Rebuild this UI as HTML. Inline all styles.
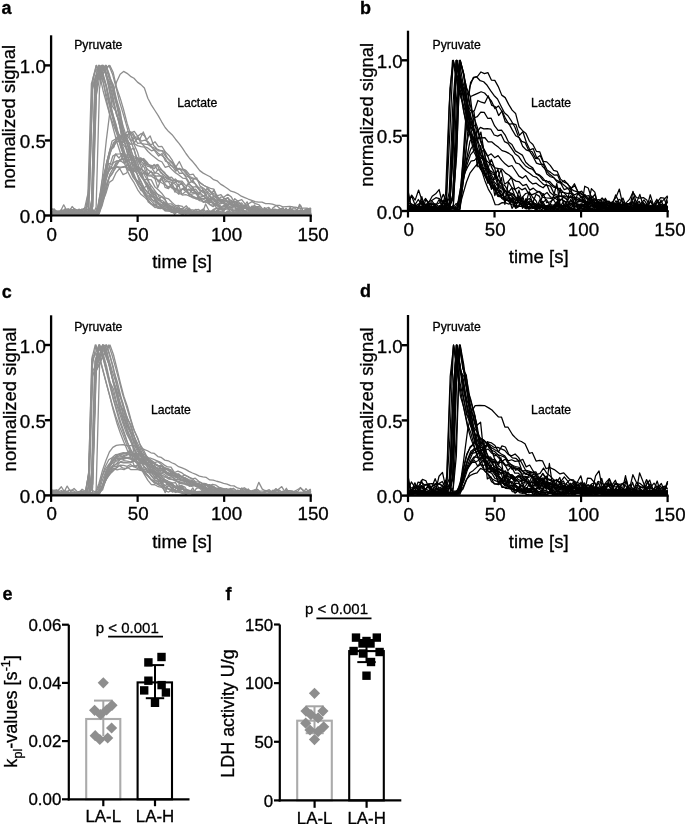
<!DOCTYPE html><html><head><meta charset="utf-8"><style>html,body{margin:0;padding:0;background:#fff;overflow:hidden}svg{display:block;filter:blur(0.3px)}text{font-family:"Liberation Sans", sans-serif;stroke:#000;stroke-width:0.3px}</style></head><body>
<svg width="685" height="824" viewBox="0 0 685 824">
<rect width="685" height="824" fill="#fff"/>
<g fill="none" stroke="#8e8e8e" stroke-width="1.3" stroke-linejoin="round">
<polyline points="51.1,212.13 54.81,212.54 58.27,214.65 61.73,214.3 65.19,209.64 68.66,212.63 72.12,206.47 75.58,210.45 79.04,211.99 82.5,209.51 85.96,211.04 89.42,194.46 92.89,81.43 96.35,65.4 99.81,74.77 103.27,82.46 106.73,100.97 110.19,116.27 113.65,125.6 117.12,134.49 120.58,146.75 124.04,156.75 127.5,169.07 130.96,171.38 134.42,177.94 137.88,180.89 141.34,185.76 144.81,192.1 148.27,201.95 151.73,204.49 155.19,206.1 158.65,204.52 162.11,207.91 165.57,205.1 169.04,207.73 172.5,209.63 175.96,209.65 179.42,210.58 182.88,208.66 186.34,205.81 189.8,209.99 193.27,209.98 196.73,213.65 200.19,211.21 203.65,210.3 207.11,212.25 210.57,212.47 214.03,211.37 217.5,211.3 220.96,207.75 224.42,213.9 227.88,212.08 231.34,214.03 234.8,214.19 238.26,212.29 241.73,212.65 245.19,212.78 248.65,213.41 252.11,211.97 255.57,213.12 259.03,210.37 262.49,211.48 265.96,212.75 269.42,212.38 272.88,212.8 276.34,214.27 279.8,214.72 283.26,212.88 286.72,211.34 290.19,211.99 293.65,212.58 297.11,211.69 300.57,214.22 304.03,211.05 307.49,209.2 310.19,208.07 310.7,209.37"/>
<polyline points="51.1,213.6 53.74,213.41 57.2,213.01 60.66,214.95 64.13,214.66 67.59,214.74 71.05,214.36 74.51,214.09 77.97,213.64 81.43,214.31 84.89,213.02 88.36,215.19 91.82,90.82 95.28,80 98.74,65.4 102.2,75.57 105.66,84.79 109.12,101.94 112.59,113.45 116.05,124.33 119.51,139.61 122.97,149.77 126.43,158.6 129.89,168.31 133.35,172.61 136.82,181.16 140.28,184.89 143.74,190.34 147.2,195.07 150.66,197.35 154.12,201.88 157.58,202.71 161.05,207.65 164.51,208.35 167.97,207.65 171.43,212.41 174.89,210.75 178.35,212.66 181.81,213.09 185.28,214.17 188.74,212.2 192.2,214.91 195.66,212.5 199.12,213.66 202.58,215.21 206.04,215.04 209.5,214.16 212.97,214.65 216.43,212.37 219.89,214.92 223.35,212.75 226.81,214.26 230.27,215.12 233.73,214.03 237.2,213.26 240.66,214.86 244.12,215.27 247.58,214.08 251.04,214.3 254.5,213.11 257.96,214.76 261.43,213.88 264.89,214.59 268.35,213.91 271.81,214.49 275.27,214.26 278.73,214.31 282.19,212.39 285.66,213.51 289.12,212.69 292.58,213.83 296.04,213.45 299.5,215.36 302.96,213.41 306.42,214.95 309.89,213.28 310.7,214.04"/>
<polyline points="51.1,213.89 54.26,211.37 57.72,212.45 61.18,213.95 64.64,213.08 68.1,214.85 71.56,213.45 75.02,213.15 78.49,212.47 81.95,213.53 85.41,212.29 88.87,213.38 92.33,212.44 95.79,91.42 99.25,65.4 102.72,74.57 106.18,85.93 109.64,103.42 113.1,117.41 116.56,129.9 120.02,139.77 123.48,153.78 126.95,162.14 130.41,166.88 133.87,176.24 137.33,182.63 140.79,190.13 144.25,192.36 147.71,199.75 151.18,203.63 154.64,205.12 158.1,203.18 161.56,207 165.02,210.85 168.48,210.95 171.94,210.61 175.41,209.9 178.87,212.7 182.33,210.94 185.79,211.39 189.25,211.08 192.71,214.87 196.17,213.19 199.63,214.16 203.1,214.57 206.56,212.45 210.02,212.07 213.48,210.78 216.94,213.24 220.4,214.88 223.86,213.52 227.33,212.75 230.79,212.54 234.25,213.06 237.71,211.71 241.17,213.55 244.63,213.89 248.09,212.61 251.56,214.63 255.02,214.35 258.48,212.62 261.94,210.77 265.4,215.27 268.86,212.72 272.32,213.76 275.79,213.58 279.25,214.01 282.71,212.12 286.17,211.97 289.63,213.54 293.09,212.36 296.55,214.38 300.02,211.85 303.48,214.28 306.94,211.74 310.19,214.9 310.7,213.82"/>
<polyline points="51.1,213.01 54.18,212.93 57.64,213.74 61.1,213.19 64.56,214.81 68.03,212.7 71.49,214.2 74.95,210.5 78.41,211.98 81.87,214.98 85.33,210.34 88.79,212.31 92.26,199.44 95.72,77.25 99.18,72.38 102.64,65.4 106.1,71.89 109.56,90.55 113.02,102.92 116.48,112.61 119.95,127.37 123.41,139.06 126.87,151 130.33,158.13 133.79,170.12 137.25,173.92 140.71,181.75 144.18,187.88 147.64,193.21 151.1,194.52 154.56,198.94 158.02,203.15 161.48,204.49 164.94,208.61 168.41,205.89 171.87,206.81 175.33,208.66 178.79,211.19 182.25,211.5 185.71,213.99 189.17,213.61 192.64,213.75 196.1,214.4 199.56,213.1 203.02,213.89 206.48,214.81 209.94,211.03 213.4,215.01 216.87,210.95 220.33,211.89 223.79,211.64 227.25,214.37 230.71,214.68 234.17,212.38 237.63,214.86 241.1,213.94 244.56,214.01 248.02,215.25 251.48,208.98 254.94,213.86 258.4,212.4 261.86,213.38 265.33,213.71 268.79,215.13 272.25,213.2 275.71,213.85 279.17,214.58 282.63,212.93 286.09,214.45 289.55,213.52 293.02,213.78 296.48,214.33 299.94,214.28 303.4,212.95 306.86,214.28 310.19,214.99 310.7,214.71"/>
<polyline points="51.1,213.56 54.13,212.31 57.59,212.5 61.05,214.01 64.51,213.24 67.98,212.86 71.44,212.81 74.9,212.77 78.36,211.59 81.82,213.36 85.28,213.67 88.74,188.01 92.21,86.44 95.67,78.44 99.13,70.69 102.59,65.4 106.05,73.49 109.51,83.73 112.97,96.63 116.44,114.85 119.9,121.68 123.36,133.02 126.82,142.67 130.28,153.66 133.74,162.56 137.2,169.68 140.67,173.95 144.13,180.2 147.59,183.55 151.05,193.07 154.51,192.6 157.97,194.48 161.43,202.39 164.89,202.78 168.36,208.18 171.82,212.07 175.28,210.53 178.74,209.63 182.2,209.91 185.66,211.96 189.12,211.09 192.59,211.84 196.05,209.37 199.51,214.57 202.97,213.22 206.43,212.58 209.89,213 213.35,214.27 216.82,210.48 220.28,214.31 223.74,213.83 227.2,213.03 230.66,214.14 234.12,210.09 237.58,210.27 241.05,212.4 244.51,210.71 247.97,214.48 251.43,213.48 254.89,214.38 258.35,214.32 261.81,212.53 265.28,213.84 268.74,212.21 272.2,213.19 275.66,212.38 279.12,212.47 282.58,212.85 286.04,212.37 289.51,212.89 292.97,214.74 296.43,211.9 299.89,213.17 303.35,214.51 306.81,214.44 310.19,213.39 310.7,214.34"/>
<polyline points="51.1,215.06 53.98,215.07 57.44,214.25 60.91,214.21 64.37,213.26 67.83,214.48 71.29,214.19 74.75,214.43 78.21,213.29 81.67,214.09 85.13,214.01 88.6,213.02 92.06,204.81 95.52,80.31 98.98,74.94 102.44,69.22 105.9,65.4 109.36,74.59 112.83,87.01 116.29,100.15 119.75,113.73 123.21,126.38 126.67,137.47 130.13,147.54 133.59,157.72 137.06,165.77 140.52,173.02 143.98,180.26 147.44,184.39 150.9,189.1 154.36,194.12 157.82,198.54 161.29,202.34 164.75,205.31 168.21,204.6 171.67,207.15 175.13,209.17 178.59,211.17 182.05,211.19 185.52,211.23 188.98,212.36 192.44,213.89 195.9,211.27 199.36,213.64 202.82,215.16 206.28,214.22 209.75,214.48 213.21,214.31 216.67,214.36 220.13,214.78 223.59,214.83 227.05,214.17 230.51,214.55 233.98,215.37 237.44,213.97 240.9,213.65 244.36,214.28 247.82,213.43 251.28,214.11 254.74,215.01 258.2,215.17 261.67,215.15 265.13,214.43 268.59,214.28 272.05,215.01 275.51,214.69 278.97,214.52 282.43,215.04 285.9,214.27 289.36,214.27 292.82,214.81 296.28,214.02 299.74,214.87 303.2,214.14 306.66,213.99 310.13,215.07 310.7,215.41"/>
<polyline points="51.1,214.63 53.58,214.83 57.04,214.29 60.51,214.47 63.97,214.32 67.43,214.2 70.89,214.28 74.35,214.4 77.81,214.24 81.27,215.32 84.74,214.88 88.2,214.18 91.66,214.57 95.12,83.92 98.58,78.71 102.04,76.18 105.5,68.74 108.97,65.4 112.43,73.91 115.89,86.66 119.35,101.15 122.81,112.67 126.27,124.68 129.73,137.35 133.2,147.7 136.66,157.19 140.12,164.27 143.58,173.24 147.04,179.55 150.5,184.62 153.96,189.38 157.42,194.16 160.89,196.1 164.35,199.15 167.81,203.92 171.27,203.81 174.73,206.63 178.19,207.96 181.65,209.18 185.12,211.75 188.58,212.43 192.04,212.02 195.5,213.3 198.96,211.21 202.42,213.98 205.88,213.27 209.35,215.08 212.81,212.61 216.27,213.36 219.73,214.35 223.19,214.07 226.65,215.1 230.11,214.03 233.58,213.52 237.04,215.07 240.5,214.72 243.96,214.78 247.42,214.09 250.88,214.34 254.34,215.05 257.81,215.25 261.27,214.08 264.73,215.34 268.19,214.53 271.65,214.97 275.11,215.01 278.57,214.57 282.04,215.14 285.5,214.2 288.96,215.01 292.42,214.56 295.88,214.52 299.34,213.9 302.8,214.13 306.27,215.25 309.73,214.49 310.7,214.41"/>
<polyline points="51.1,213.08 54.77,211.9 58.23,211.74 61.69,215.21 65.15,212.99 68.62,213.96 72.08,212.02 75.54,213.06 79,211.8 82.46,213.47 85.92,214.01 89.38,213.75 92.84,192.62 96.31,94.18 99.77,65.4 103.23,74.21 106.69,86.58 110.15,102.04 113.61,117.41 117.07,129.15 120.54,139.36 124,149.8 127.46,162.79 130.92,171.89 134.38,177.36 137.84,184.8 141.3,189.18 144.77,195.31 148.23,197.02 151.69,199.9 155.15,200.87 158.61,203.09 162.07,207.21 165.53,210.12 169,208.62 172.46,212.55 175.92,210.59 179.38,213.2 182.84,214.82 186.3,210.19 189.76,211.09 193.23,211.95 196.69,214.56 200.15,214.2 203.61,214.6 207.07,213.96 210.53,212.77 213.99,214.65 217.46,213.36 220.92,212.93 224.38,213.26 227.84,213.66 231.3,212.08 234.76,213.54 238.22,210.26 241.69,213.92 245.15,214.87 248.61,213.71 252.07,212.78 255.53,212.95 258.99,214.56 262.45,212.93 265.91,211.56 269.38,213.3 272.84,214.19 276.3,213.85 279.76,214.59 283.22,214.09 286.68,213.66 290.14,212.44 293.61,214.28 297.07,214.65 300.53,214.66 303.99,212.87 307.45,213.77 310.19,213.54 310.7,213.9"/>
<polyline points="51.1,213.18 53.32,210.57 56.78,215.03 60.24,211.67 63.7,204.81 67.17,211.21 70.63,211.07 74.09,210.27 77.55,212.22 81.01,209.81 84.47,209.08 87.93,193.72 91.4,83.72 94.86,71.85 98.32,67.65 101.78,65.4 105.24,72.54 108.7,86.92 112.16,105.79 115.63,111.22 119.09,121.65 122.55,143.66 126.01,148.03 129.47,162.44 132.93,164.09 136.39,171.7 139.86,183.11 143.32,188.4 146.78,185.68 150.24,197.17 153.7,195.6 157.16,208.2 160.62,208.64 164.08,202.54 167.55,206.47 171.01,207.91 174.47,214.53 177.93,210.82 181.39,208.42 184.85,212.13 188.31,209.57 191.78,212.17 195.24,209.81 198.7,209.46 202.16,213.77 205.62,203.97 209.08,210.78 212.54,212.32 216.01,208.11 219.47,208.4 222.93,210.56 226.39,206.29 229.85,211.34 233.31,210.03 236.77,211.84 240.24,209.05 243.7,210.25 247.16,212.25 250.62,212.95 254.08,213.99 257.54,208.09 261,210.01 264.47,209.59 267.93,211.94 271.39,210.94 274.85,212.26 278.31,213.43 281.77,213.74 285.23,213.38 288.7,213.57 292.16,210.14 295.62,210.1 299.08,213.59 302.54,213.32 306,210.27 309.46,209.03 310.7,214.43"/>
<polyline points="51.1,214.98 54.63,214.67 58.09,213.52 61.56,215.01 65.02,214.62 68.48,215.03 71.94,214.54 75.4,214.74 78.86,213.58 82.32,213.33 85.79,213.59 89.25,191.51 92.71,79.16 96.17,65.4 99.63,74.75 103.09,90.72 106.55,103.24 110.02,115.87 113.48,129.36 116.94,142.22 120.4,153.04 123.86,161.84 127.32,170.91 130.78,177.58 134.24,182.96 137.71,189.8 141.17,194.56 144.63,197.17 148.09,200.85 151.55,204.43 155.01,207.56 158.47,206.53 161.94,207.9 165.4,210.64 168.86,211.06 172.32,212.12 175.78,212.53 179.24,212.19 182.7,213.12 186.17,213.61 189.63,213.93 193.09,214.37 196.55,214.26 200.01,214.7 203.47,214.85 206.93,213.61 210.4,214.39 213.86,214.37 217.32,213.47 220.78,215.06 224.24,215.02 227.7,215.06 231.16,214.86 234.63,214.89 238.09,214.66 241.55,214.53 245.01,214.08 248.47,214.91 251.93,215.11 255.39,214.26 258.86,214.27 262.32,214.59 265.78,214.27 269.24,214.85 272.7,214.32 276.16,214.18 279.62,215.03 283.09,215.19 286.55,215.22 290.01,214.28 293.47,214.59 296.93,215.04 300.39,214.45 303.85,214.06 307.31,214.01 310.19,214.76 310.7,213.95"/>
<polyline points="51.1,209.99 54.36,208.97 57.82,214.83 61.28,214.2 64.74,209.8 68.2,209.23 71.66,210.97 75.12,209.42 78.59,210.39 82.05,209.86 85.51,207.46 88.97,206.17 92.43,87.26 95.89,75.49 99.35,74.05 102.82,67.65 106.28,65.4 109.74,77.82 113.2,84.59 116.66,99.79 120.12,111.18 123.58,132.17 127.05,137.88 130.51,149.53 133.97,148.19 137.43,163.51 140.89,170.9 144.35,180.04 147.81,178.93 151.28,189.12 154.74,192.31 158.2,199.83 161.66,196.56 165.12,199.07 168.58,209.38 172.04,210.1 175.51,205.43 178.97,206.73 182.43,214.41 185.89,211.09 189.35,208.18 192.81,213.07 196.27,212.64 199.73,211.19 203.2,208.92 206.66,213.22 210.12,211.94 213.58,209.37 217.04,207.78 220.5,213.62 223.96,213.91 227.43,214.66 230.89,206.55 234.35,212.35 237.81,214.64 241.27,209.85 244.73,213.51 248.19,211.57 251.66,208.06 255.12,212.4 258.58,212.28 262.04,211.71 265.5,212.88 268.96,208.18 272.42,211.34 275.89,210.19 279.35,211.01 282.81,211.89 286.27,212.43 289.73,211.87 293.19,212.41 296.65,214.44 300.12,209.82 303.58,211.93 307.04,210.11 310.19,210.24 310.7,207.95"/>
<polyline points="51.1,214.43 54.49,215.25 57.95,214.34 61.41,214.45 64.87,214.45 68.33,215.19 71.79,213.87 75.26,215.21 78.72,213.73 82.18,214.98 85.64,213.6 89.1,215.16 92.56,214.07 96.02,211.06 99.48,88.84 102.95,65.4 106.41,75.72 109.87,87.84 113.33,100.49 116.79,114.62 120.25,126.74 123.71,138.83 127.18,148.54 130.64,158.32 134.1,166.44 137.56,174.83 141.02,181.37 144.48,188.94 147.94,192.41 151.41,196.41 154.87,198.35 158.33,202.26 161.79,205.18 165.25,206.62 168.71,208.61 172.17,210.24 175.64,211.53 179.1,210.85 182.56,211.13 186.02,213.03 189.48,213.14 192.94,213.27 196.4,214.58 199.87,214.27 203.33,215.11 206.79,214.26 210.25,213.97 213.71,213.82 217.17,214.3 220.63,214.62 224.1,214.78 227.56,214.51 231.02,213.96 234.48,214.85 237.94,213.71 241.4,215.08 244.86,215.1 248.33,214.88 251.79,213.83 255.25,213.62 258.71,214.65 262.17,214.62 265.63,215.27 269.09,214 272.55,215.12 276.02,214.31 279.48,214.94 282.94,214.83 286.4,213.83 289.86,215.02 293.32,214.24 296.78,214.87 300.25,214.76 303.71,214.42 307.17,213.76 310.19,214.16 310.7,214.36"/>
<polyline points="51.1,214.79 53.34,214.76 56.8,215.17 60.26,214.84 63.72,213.52 67.19,213.77 70.65,214.9 74.11,213.77 77.57,214.09 81.03,214.8 84.49,214.28 87.95,213.71 91.42,208.03 94.88,79.49 98.34,65.4 101.8,76.22 105.26,90.7 108.72,103.14 112.18,116.7 115.65,128.29 119.11,141.16 122.57,151.48 126.03,159.82 129.49,168.73 132.95,177.22 136.41,181.7 139.88,187.83 143.34,191.01 146.8,197.79 150.26,200.09 153.72,203.53 157.18,206.74 160.64,208.4 164.11,208.49 167.57,209.4 171.03,211.72 174.49,212.13 177.95,210.87 181.41,213.14 184.87,213.2 188.34,212.68 191.8,214.9 195.26,213.92 198.72,214.45 202.18,213.55 205.64,214.68 209.1,214.87 212.56,213.06 216.03,213.12 219.49,214.53 222.95,215.36 226.41,212.76 229.87,212.99 233.33,213.61 236.79,214.04 240.26,213.88 243.72,213.55 247.18,214.2 250.64,214.1 254.1,214.11 257.56,213.35 261.02,213.99 264.49,214.6 267.95,212.89 271.41,214.35 274.87,214.58 278.33,214.78 281.79,214.31 285.25,214.5 288.72,211.97 292.18,212.25 295.64,214.57 299.1,213.88 302.56,213.73 306.02,213.86 309.48,215.21 310.7,214.47"/>
<polyline points="51.1,213.51 54.38,214.02 57.84,213.95 61.3,211.57 64.76,212.88 68.23,213.28 71.69,211.89 75.15,213.89 78.61,212.62 82.07,211.93 85.53,212.01 88.99,212.98 92.46,205.81 95.92,81.85 99.38,76.61 102.84,74.44 106.3,68.84 109.76,65.4 113.22,72.57 116.69,88.09 120.15,97.94 123.61,109.72 127.07,123.24 130.53,134.04 133.99,144.26 137.45,152.05 140.92,163.6 144.38,167.58 147.84,179.29 151.3,179.92 154.76,186.65 158.22,189.82 161.68,193.23 165.15,197.86 168.61,198.96 172.07,202.55 175.53,205.62 178.99,205.52 182.45,206.29 185.91,213.06 189.37,209.98 192.84,212.5 196.3,212.13 199.76,212.64 203.22,213.19 206.68,211.17 210.14,212 213.6,212.74 217.07,211.33 220.53,211.7 223.99,214.98 227.45,210.96 230.91,214.74 234.37,212.72 237.83,213.51 241.3,212.11 244.76,215.01 248.22,213.88 251.68,211.46 255.14,213.59 258.6,213.47 262.06,212.58 265.53,213.91 268.99,211.69 272.45,212.87 275.91,214.31 279.37,212.31 282.83,213.03 286.29,212.48 289.76,212.2 293.22,213.27 296.68,211.43 300.14,211.83 303.6,213.97 307.06,213.19 310.19,213.38 310.7,215.24"/>
<polyline points="51.1,213.43 54.81,213.25 58.27,215.03 61.73,212.19 65.19,212.35 68.66,212.05 72.12,210.24 75.58,213.16 79.04,214.59 82.5,212.98 85.96,213.03 89.42,210.85 92.89,206.58 96.35,95.16 99.81,76.81 103.27,65.4 106.73,77.51 110.19,82.6 113.65,94.6 117.12,107.54 120.58,124.72 124.04,136.28 127.5,144.76 130.96,155.5 134.42,160.07 137.88,171.27 141.35,177.28 144.81,180.95 148.27,187.44 151.73,193.85 155.19,194.6 158.65,199.88 162.11,200.45 165.58,202.94 169.04,204.99 172.5,209.81 175.96,208.47 179.42,208.34 182.88,213.42 186.34,207.89 189.8,211.16 193.27,212.29 196.73,212.54 200.19,210.34 203.65,215.46 207.11,210.61 210.57,212.79 214.03,211.24 217.5,213.28 220.96,213.91 224.42,212.72 227.88,212.04 231.34,212.77 234.8,212.12 238.26,212.67 241.73,212.13 245.19,214.07 248.65,207.39 252.11,208.7 255.57,214.41 259.03,213.64 262.49,212.54 265.96,211.93 269.42,210.45 272.88,212.37 276.34,212.89 279.8,213.91 283.26,213.49 286.72,213.07 290.19,207.31 293.65,212.85 297.11,213.97 300.57,210.03 304.03,212.44 307.49,213.09 310.19,212.44 310.7,212.76"/>
<polyline points="51.1,212.52 53.47,212.64 56.93,215.19 60.4,214.42 63.86,212.89 67.32,210.47 70.78,212.13 74.24,214.1 77.7,213.36 81.16,213.67 84.63,214.97 88.09,214.44 91.55,203.46 95.01,84.38 98.47,76.71 101.93,74.39 105.39,65.4 108.86,77.56 112.32,85.81 115.78,100.18 119.24,113.93 122.7,129.9 126.16,139.33 129.62,151.04 133.09,160.77 136.55,168.25 140.01,174.29 143.47,180.01 146.93,186.78 150.39,190.1 153.85,195.83 157.32,199.73 160.78,201.63 164.24,204.44 167.7,206.51 171.16,205.8 174.62,207.87 178.08,208.11 181.54,211.91 185.01,210.58 188.47,210.42 191.93,213.67 195.39,215.24 198.85,213.18 202.31,210.22 205.77,214.48 209.24,213.98 212.7,212.15 216.16,211.82 219.62,212.42 223.08,212.05 226.54,212.91 230,212.02 233.47,214.56 236.93,214.51 240.39,213.15 243.85,213.18 247.31,213.55 250.77,213.75 254.23,214.34 257.7,214.31 261.16,212.8 264.62,213.77 268.08,215.45 271.54,212.75 275,213.78 278.46,212.96 281.93,213.95 285.39,212.52 288.85,211.54 292.31,213.28 295.77,214.49 299.23,211.75 302.69,213.15 306.16,212.6 309.62,212.46 310.7,214.03"/>
<polyline points="51.1,215.3 53.25,214.23 56.71,211.38 60.17,212.49 63.63,214.45 67.09,211.29 70.56,208.96 74.02,213.38 77.48,213.28 80.94,214.34 84.4,213.31 87.86,208.95 91.32,210.64 94.79,214.8 98.25,206.8 101.71,182.06 105.17,168.91 108.63,155.01 112.09,140.96 115.55,139.1 119.02,134.32 122.48,138.01 125.94,138.43 129.4,131.7 132.86,132.97 136.32,139 139.78,139.27 143.25,131.91 146.71,139.88 150.17,135.89 153.63,145.58 157.09,148.98 160.55,150.48 164.01,151.12 167.47,158.34 170.94,162.33 174.4,165.51 177.86,168.97 181.32,169.92 184.78,170.01 188.24,175.6 191.7,181.89 195.17,183.64 198.63,187.64 202.09,188.15 205.55,193.62 209.01,190.15 212.47,193.84 215.93,197.73 219.4,198.49 222.86,200.08 226.32,201.03 229.78,202.33 233.24,201.24 236.7,202.69 240.16,212.43 243.63,206.66 247.09,201.84 250.55,210.88 254.01,208.77 257.47,211.83 260.93,214.69 264.39,207.61 267.86,209.97 271.32,210.94 274.78,212.97 278.24,211.2 281.7,211.72 285.16,211.46 288.62,211.91 292.09,209.96 295.55,212.46 299.01,215.01 302.47,211.6 305.93,208.97 309.39,212.75 310.7,208.68"/>
<polyline points="51.1,211.83 54.84,212.75 58.3,211.28 61.76,213.93 65.22,213.31 68.68,212.36 72.14,213.36 75.61,213.51 79.07,211.43 82.53,214.49 85.99,211.84 89.45,213.73 92.91,212.54 96.37,214.73 99.84,207.07 103.3,189.64 106.76,169.26 110.22,150.07 113.68,146.75 117.14,138.8 120.6,136.46 124.06,133.37 127.53,135.27 130.99,132.48 134.45,137.52 137.91,136.7 141.37,141.06 144.83,140.21 148.29,141.74 151.76,147.02 155.22,148.32 158.68,150.92 162.14,150.8 165.6,156.45 169.06,159.82 172.52,162.61 175.99,169.76 179.45,168.57 182.91,169.57 186.37,174.1 189.83,176.47 193.29,178.24 196.75,179.29 200.22,182.74 203.68,185.29 207.14,187.3 210.6,191.55 214.06,193.75 217.52,195.68 220.98,194.72 224.45,199 227.91,197.58 231.37,201.66 234.83,201.67 238.29,200.88 241.75,199.56 245.21,204.22 248.68,209.7 252.14,207.41 255.6,206.57 259.06,206.54 262.52,210.6 265.98,212.78 269.44,210.13 272.91,211.05 276.37,212.64 279.83,214.23 283.29,211.88 286.75,213.53 290.21,213.59 293.67,213.93 297.13,214.41 300.6,213.73 304.06,211.35 307.52,211.47 310.19,214.72 310.7,213.77"/>
<polyline points="51.1,211.9 54.69,210.42 58.15,213.31 61.61,213.8 65.08,208.66 68.54,211.05 72,212.08 75.46,213.6 78.92,209.06 82.38,210.86 85.84,211.27 89.31,208.59 92.77,209.29 96.23,215.3 99.69,198.2 103.15,181.94 106.61,164.76 110.07,153.92 113.53,142.65 117,139.48 120.46,137.37 123.92,135.94 127.38,131.44 130.84,132.73 134.3,131.32 137.76,136.35 141.23,133.45 144.69,135.93 148.15,143.8 151.61,144.53 155.07,141.78 158.53,146.59 161.99,146.51 165.46,152.03 168.92,155.42 172.38,160.46 175.84,167.11 179.3,161.52 182.76,168.76 186.22,170.62 189.69,174.91 193.15,174.17 196.61,179.45 200.07,182.67 203.53,185.22 206.99,186.96 210.45,188.36 213.92,189.22 217.38,200.32 220.84,197.03 224.3,196.81 227.76,194.34 231.22,196.86 234.68,202.59 238.15,204.43 241.61,202.87 245.07,207.41 248.53,203.82 251.99,201.62 255.45,203.62 258.91,204.75 262.38,208.71 265.84,214.26 269.3,213.54 272.76,208.12 276.22,205.59 279.68,208.3 283.14,210.7 286.6,210.75 290.07,210.3 293.53,210.74 296.99,212.57 300.45,211.95 303.91,212.13 307.37,209.02 310.19,214.78 310.7,210.75"/>
<polyline points="51.1,208.1 54.79,211.17 58.25,212.02 61.71,212.3 65.17,210.02 68.63,208.99 72.1,212.7 75.56,210.81 79.02,209.64 82.48,212.1 85.94,214.8 89.4,214.03 92.86,212.93 96.33,214.6 99.79,195.5 103.25,182.84 106.71,162.38 110.17,148.79 113.63,147.63 117.09,138.14 120.56,137.55 124.02,141.52 127.48,134.64 130.94,134.55 134.4,142.56 137.86,137.62 141.32,143.69 144.79,144.19 148.25,144.7 151.71,146.98 155.17,151.46 158.63,156.09 162.09,153.45 165.55,161.23 169.02,162.72 172.48,166.95 175.94,167.72 179.4,173.39 182.86,172.99 186.32,176.01 189.78,177.57 193.25,179.35 196.71,177.81 200.17,186.18 203.63,188.26 207.09,191.53 210.55,194.83 214.01,189.8 217.48,196.75 220.94,202 224.4,200.77 227.86,197.7 231.32,205.42 234.78,198.67 238.24,201.6 241.7,205.06 245.17,208.38 248.63,209.26 252.09,205.96 255.55,207.96 259.01,210.02 262.47,213.98 265.93,209.07 269.4,214.81 272.86,209.73 276.32,210.96 279.78,213.48 283.24,212.48 286.7,209.91 290.16,211.61 293.63,207.56 297.09,209.77 300.55,205.33 304.01,213.37 307.47,214.41 310.19,212.35 310.7,210.33"/>
<polyline points="51.1,214.07 54.55,214.32 58.02,214.44 61.48,213 64.94,213.95 68.4,212.03 71.86,213.28 75.32,214.46 78.78,213.75 82.25,212.98 85.71,211.65 89.17,213.65 92.63,212 96.09,214.66 99.55,206.85 103.01,189.69 106.48,169.91 109.94,152.86 113.4,145.81 116.86,141.75 120.32,140.97 123.78,142.45 127.24,135.36 130.71,140.94 134.17,137.46 137.63,143.45 141.09,142.79 144.55,146.48 148.01,148.18 151.47,150.86 154.94,149.59 158.4,153.6 161.86,155.53 165.32,158.49 168.78,164.81 172.24,165.84 175.7,171.22 179.16,168.21 182.63,172.65 186.09,177.26 189.55,183.08 193.01,180.28 196.47,186.17 199.93,189.54 203.39,192.92 206.86,188.59 210.32,191.81 213.78,196.31 217.24,195.88 220.7,202.24 224.16,198.14 227.62,201.61 231.09,200.15 234.55,203.58 238.01,206.86 241.47,209.69 244.93,205.37 248.39,210.26 251.85,207.68 255.32,207.88 258.78,211.9 262.24,209.94 265.7,209.07 269.16,211.74 272.62,213.57 276.08,213.14 279.55,210.99 283.01,214.06 286.47,214.98 289.93,214.86 293.39,214.14 296.85,209.69 300.31,213.96 303.78,211 307.24,214.59 310.19,211.92 310.7,214.35"/>
<polyline points="51.1,214.81 54.52,212.52 57.98,212.66 61.45,212.07 64.91,212.22 68.37,214.05 71.83,215.15 75.29,214.57 78.75,213.32 82.21,214.52 85.68,215.43 89.14,214.16 92.6,214.76 96.06,214.66 99.52,208.85 102.98,186.79 106.44,163.27 109.91,150.86 113.37,144.01 116.83,140.9 120.29,142.13 123.75,141.45 127.21,140.52 130.67,144.31 134.13,143.69 137.6,145.65 141.06,146.62 144.52,147.22 147.98,151.48 151.44,154.71 154.9,157.54 158.36,160.31 161.83,161.75 165.29,167.44 168.75,166.05 172.21,169.86 175.67,172.9 179.13,175.23 182.59,178.12 186.06,178.58 189.52,184.41 192.98,187.23 196.44,186.52 199.9,190.92 203.36,190.97 206.82,192.61 210.29,197.3 213.75,196.6 217.21,197.42 220.67,200.41 224.13,202.38 227.59,200.85 231.05,204.96 234.52,204.6 237.98,204.87 241.44,207.89 244.9,206.54 248.36,209.22 251.82,208.48 255.28,209.8 258.75,208.91 262.21,209.69 265.67,210.07 269.13,212.7 272.59,212.03 276.05,212.77 279.51,209.55 282.98,213.42 286.44,212.14 289.9,214.81 293.36,214.13 296.82,214.27 300.28,213.22 303.74,213.47 307.2,214.79 310.19,214.19 310.7,213.69"/>
<polyline points="51.1,213.78 53.92,214.21 57.38,214.43 60.84,213.52 64.31,212.05 67.77,213.93 71.23,211.95 74.69,212.2 78.15,214.48 81.61,210.39 85.07,214.21 88.54,211.66 92,214.24 95.46,214.23 98.92,214.14 102.38,193.07 105.84,177.17 109.3,167.08 112.77,156.18 116.23,154.15 119.69,153.9 123.15,153.29 126.61,155.17 130.07,154.5 133.53,159.61 137,157.47 140.46,159.19 143.92,160.65 147.38,163.78 150.84,166.39 154.3,168.61 157.76,164.39 161.23,169.71 164.69,172.59 168.15,177.69 171.61,177.27 175.07,181.17 178.53,185.82 181.99,183.12 185.46,189.23 188.92,190.17 192.38,189.82 195.84,192.7 199.3,199.81 202.76,198.96 206.22,200.74 209.68,195.43 213.15,200.69 216.61,202.57 220.07,201.6 223.53,203.62 226.99,206.48 230.45,202.19 233.91,202.96 237.38,206.7 240.84,209.57 244.3,207.72 247.76,208.44 251.22,208.78 254.68,207.97 258.14,210.25 261.61,209.91 265.07,211.13 268.53,213.46 271.99,214.23 275.45,214.14 278.91,213.25 282.37,213.89 285.84,213.84 289.3,210.98 292.76,212.57 296.22,212.49 299.68,214.95 303.14,215.11 306.6,212.25 310.07,214.5 310.7,212.86"/>
<polyline points="51.1,210.92 53.27,212.16 56.73,212.24 60.19,212.41 63.65,211.93 67.11,212.45 70.58,210.31 74.04,209.28 77.5,211.66 80.96,212.84 84.42,210.7 87.88,212.13 91.34,211.26 94.81,211.18 98.27,215.02 101.73,192.68 105.19,176.86 108.65,163.49 112.11,164.46 115.57,153.99 119.04,158.08 122.5,153.4 125.96,161.12 129.42,146.84 132.88,155.79 136.34,158.35 139.8,159.93 143.27,158.54 146.73,164.42 150.19,165.17 153.65,166.13 157.11,164.64 160.57,172.77 164.03,175.06 167.5,178.09 170.96,180.02 174.42,182.71 177.88,181.12 181.34,182.24 184.8,189.57 188.26,182.99 191.72,186.72 195.19,191.12 198.65,194.71 202.11,195.19 205.57,197.53 209.03,202.92 212.49,197.77 215.95,201.29 219.42,200.2 222.88,199.67 226.34,205.02 229.8,203.5 233.26,204.28 236.72,207 240.18,206.8 243.65,206.86 247.11,204.44 250.57,208.5 254.03,211.17 257.49,206.94 260.95,211.39 264.41,211.34 267.88,211.42 271.34,209.97 274.8,209.11 278.26,210.08 281.72,208.23 285.18,210.29 288.64,212.12 292.11,214.07 295.57,211.77 299.03,210.58 302.49,211.79 305.95,211.12 309.41,215.16 310.7,211.89"/>
<polyline points="51.1,211.6 54.56,212.87 58.02,213.84 61.48,214.36 64.94,214.4 68.41,213.72 71.87,210.47 75.33,212.72 78.79,211.72 82.25,214.48 85.71,211.81 89.17,214.45 92.64,213.29 96.1,213.62 99.56,203.1 103.02,193.07 106.48,174.58 109.94,169.88 113.4,162.67 116.87,160.78 120.33,161.15 123.79,153.25 127.25,157.39 130.71,157.02 134.17,161.9 137.63,162.22 141.1,161.16 144.56,165.45 148.02,169.91 151.48,172.25 154.94,173.34 158.4,169.15 161.86,172.84 165.33,181.81 168.79,181.41 172.25,182.63 175.71,184.47 179.17,192.18 182.63,188.79 186.09,189.88 189.56,194.71 193.02,193.77 196.48,193.05 199.94,198.01 203.4,198.54 206.86,198.23 210.32,202.42 213.79,203.45 217.25,203.26 220.71,208.1 224.17,210.67 227.63,205.34 231.09,207.91 234.55,207.88 238.01,209.52 241.48,206 244.94,207.96 248.4,209.92 251.86,208.81 255.32,213.47 258.78,214.8 262.24,210.27 265.71,209.12 269.17,215.15 272.63,212.35 276.09,212.49 279.55,212.8 283.01,207.74 286.47,213.37 289.94,211.14 293.4,213.94 296.86,211.09 300.32,212.67 303.78,213.95 307.24,209.3 310.19,213.83 310.7,212.86"/>
<polyline points="51.1,215.43 53.76,214.73 57.22,214.56 60.68,212.68 64.14,213.37 67.6,213.74 71.07,212.93 74.53,214.96 77.99,213.76 81.45,213.74 84.91,214.54 88.37,215.21 91.83,211.47 95.3,212.82 98.76,213.78 102.22,205.4 105.68,191.99 109.14,177.84 112.6,173.29 116.06,163.84 119.53,160.09 122.99,159.06 126.45,159.87 129.91,159.17 133.37,159.45 136.83,160.73 140.29,161.21 143.76,158.72 147.22,162.36 150.68,167.97 154.14,164.42 157.6,170.04 161.06,169.03 164.52,173.48 167.99,176.07 171.45,180.43 174.91,180.65 178.37,181 181.83,181.04 185.29,185.19 188.75,186.16 192.21,190.24 195.68,189.06 199.14,193.94 202.6,189.76 206.06,196.53 209.52,198.54 212.98,197.45 216.44,200.06 219.91,204.03 223.37,202.71 226.83,206.45 230.29,203.05 233.75,205.58 237.21,205.78 240.67,207.37 244.14,207.35 247.6,208.59 251.06,210.36 254.52,209.73 257.98,207.67 261.44,211.3 264.9,210.4 268.37,210.24 271.83,215.28 275.29,212.2 278.75,212.51 282.21,211.37 285.67,210.47 289.13,212.04 292.6,211.17 296.06,211.55 299.52,215.13 302.98,214.57 306.44,214.28 309.9,213.37 310.7,213.1"/>
<polyline points="51.1,214.85 54.22,209.79 57.68,211.63 61.14,210.36 64.6,209.81 68.07,209.44 71.53,209.65 74.99,209.94 78.45,211.24 81.91,209.02 85.37,215 88.83,212.6 92.3,214.95 95.76,207.96 99.22,211.22 102.68,200.71 106.14,179.94 109.6,166.49 113.06,168.26 116.52,165.3 119.99,159.71 123.45,158.74 126.91,160.91 130.37,159.96 133.83,159.18 137.29,169.43 140.75,157.71 144.22,162.08 147.68,166.36 151.14,166.91 154.6,172.45 158.06,173.52 161.52,176.76 164.98,177.13 168.45,179.62 171.91,180.28 175.37,179 178.83,182.48 182.29,184.08 185.75,188.71 189.21,194.63 192.68,186.75 196.14,194.2 199.6,192.08 203.06,196.03 206.52,198.48 209.98,199.27 213.44,199.28 216.91,202.56 220.37,207.29 223.83,206.23 227.29,202.45 230.75,205.01 234.21,206 237.67,202.53 241.14,204.94 244.6,211.85 248.06,208.38 251.52,210.64 254.98,213.76 258.44,210.5 261.9,210.6 265.37,208.67 268.83,207.3 272.29,212.26 275.75,213.46 279.21,209.3 282.67,212.2 286.13,208.21 289.59,214.2 293.06,212.03 296.52,213.31 299.98,212.96 303.44,212.5 306.9,208.64 310.19,211.49 310.7,214.01"/>
<polyline points="51.1,213.77 54.45,210.87 57.91,214.08 61.37,213.53 64.83,212.36 68.29,212.19 71.75,211.63 75.22,214.32 78.68,212.75 82.14,213.19 85.6,214.4 89.06,212.52 92.52,215.04 95.98,214.25 99.45,213.11 102.91,199.61 106.37,185.55 109.83,174.41 113.29,168.15 116.75,161.03 120.21,160.45 123.68,163.06 127.14,158.76 130.6,164.63 134.06,164.89 137.52,169.21 140.98,169.45 144.44,161.95 147.91,174.97 151.37,175.13 154.83,175.17 158.29,182.05 161.75,177.25 165.21,179.3 168.67,181.99 172.14,188.54 175.6,189.24 179.06,190.39 182.52,189.33 185.98,187.13 189.44,195.89 192.9,196.89 196.36,199.13 199.83,197.75 203.29,202.36 206.75,200.6 210.21,198.67 213.67,204.81 217.13,203.32 220.59,206.02 224.06,209.59 227.52,208.84 230.98,209.36 234.44,212.9 237.9,212.64 241.36,207.92 244.82,211.33 248.29,212.5 251.75,210.38 255.21,211.28 258.67,212.23 262.13,212.64 265.59,211.1 269.05,213.94 272.52,210.36 275.98,210.87 279.44,211.99 282.9,212.37 286.36,210.33 289.82,209.25 293.28,212.33 296.75,210.84 300.21,211.51 303.67,212.64 307.13,214.31 310.19,211.7 310.7,210.22"/>
<polyline points="51.1,212.61 54.29,214.52 57.75,214.92 61.21,209.84 64.67,213.03 68.13,211.62 71.6,210.32 75.06,211.76 78.52,210.89 81.98,212.43 85.44,214.18 88.9,211.76 92.36,212.83 95.83,211.86 99.29,208.72 102.75,198.16 106.21,185.34 109.67,176.55 113.13,171.95 116.59,166.56 120.06,167.04 123.52,167.27 126.98,165.65 130.44,165.06 133.9,171.62 137.36,166.86 140.82,168.43 144.29,171.16 147.75,174.47 151.21,171.3 154.67,176.14 158.13,175.99 161.59,175.97 165.05,187.41 168.51,188.62 171.98,182.94 175.44,191.24 178.9,194.28 182.36,188.39 185.82,191.43 189.28,193.89 192.74,196.15 196.21,197.85 199.67,197.39 203.13,201.6 206.59,202.42 210.05,200.43 213.51,202.56 216.97,208.96 220.44,209.88 223.9,209.66 227.36,207.17 230.82,207.61 234.28,206.32 237.74,209.38 241.2,208.08 244.67,207.79 248.13,209.44 251.59,211.72 255.05,209.22 258.51,212.4 261.97,213.42 265.43,211 268.9,214.89 272.36,210.64 275.82,210.07 279.28,210.49 282.74,212.1 286.2,208.97 289.66,213.1 293.13,213.72 296.59,213.9 300.05,211.98 303.51,213.14 306.97,213.51 310.19,211.43 310.7,211.69"/>
<polyline points="51.1,214.69 54.24,214.43 57.7,212.48 61.16,214.73 64.62,214.53 68.08,214.76 71.55,211.98 75.01,212.72 78.47,214.5 81.93,214.62 85.39,213.4 88.85,213.64 92.31,213.34 95.78,212.7 99.24,207.98 102.7,191.16 106.16,178.51 109.62,169.1 113.08,167.92 116.54,166.93 120,168.1 123.47,166.6 126.93,167.62 130.39,168 133.85,168.16 137.31,170.46 140.77,174.61 144.23,172.36 147.7,175.97 151.16,175.98 154.62,178.4 158.08,179.88 161.54,182.8 165,184.72 168.46,186.72 171.93,187.34 175.39,188.31 178.85,192.69 182.31,195.09 185.77,194.57 189.23,195.96 192.69,197.8 196.16,198.3 199.62,200.59 203.08,201.4 206.54,202.21 210,204.6 213.46,205.09 216.92,205.76 220.39,207.88 223.85,205.39 227.31,208.12 230.77,209.6 234.23,210.59 237.69,208.6 241.15,209.83 244.62,212.02 248.08,213.34 251.54,211.38 255,210.49 258.46,213.4 261.92,211.89 265.38,212.26 268.85,213.24 272.31,212.18 275.77,213.16 279.23,213.78 282.69,213.31 286.15,214.78 289.61,214.51 293.07,215.02 296.54,215.18 300,215.34 303.46,214.22 306.92,214.66 310.19,214.08 310.7,214.39"/>
<polyline points="51.1,214.24 53.86,212.39 57.33,211.23 60.79,211.99 64.25,213.3 67.71,211.82 71.17,211.2 74.63,208.8 78.09,211.82 81.56,209.9 85.02,208.84 88.48,212.8 91.94,211.71 95.4,213.95 98.86,213.2 102.32,202.05 105.79,193.86 109.25,182.4 112.71,180.06 116.17,172.56 119.63,168.47 123.09,174.59 126.55,172.99 130.02,166.87 133.48,171.92 136.94,167.06 140.4,175.63 143.86,173 147.32,175.08 150.78,171.34 154.25,176.13 157.71,187.66 161.17,178.98 164.63,182.99 168.09,188.33 171.55,184.46 175.01,192.15 178.48,184.2 181.94,194.43 185.4,191.72 188.86,188.94 192.32,192.72 195.78,191.76 199.24,197.26 202.71,196.45 206.17,194.11 209.63,204.51 213.09,206.64 216.55,204.17 220.01,208.43 223.47,208.1 226.93,203.7 230.4,207.34 233.86,206.29 237.32,205.14 240.78,205.71 244.24,208.44 247.7,206.77 251.16,208.64 254.63,205 258.09,212.43 261.55,209.91 265.01,211.34 268.47,210.61 271.93,209.66 275.39,212.55 278.86,209.25 282.32,209.97 285.78,214.54 289.24,212.76 292.7,213.27 296.16,213.08 299.62,204.32 303.09,211.36 306.55,213.37 310.01,214.11 310.7,212.12"/>
<polyline points="51.1,215.04 54.38,214.57 57.84,215.3 61.3,214.6 64.77,214.57 68.23,214.78 71.69,214.3 75.15,215.05 78.61,214.91 82.07,214.54 85.53,214.91 89,213.84 92.46,215.27 95.92,215.01 99.38,208.33 102.84,172.74 106.3,140.44 109.76,112.9 113.23,92.39 116.69,81.79 120.15,74.33 123.61,71.41 127.07,73.33 130.53,76.34 133.99,78.22 137.46,82.11 140.92,84.62 144.38,88.05 147.84,98.23 151.3,104.85 154.76,110.25 158.22,115.59 161.69,121.79 165.15,127.51 168.61,131.58 172.07,134.67 175.53,139.21 178.99,143.32 182.45,148.08 185.92,153.49 189.38,158.19 192.84,161.79 196.3,166.03 199.76,170.63 203.22,173.12 206.68,174.97 210.15,176.75 213.61,179.66 217.07,180.79 220.53,184.14 223.99,186.17 227.45,188.58 230.91,191.2 234.37,192.2 237.84,193.74 241.3,196.17 244.76,197.61 248.22,199.02 251.68,200.31 255.14,201.56 258.6,202.14 262.07,202.12 265.53,203.59 268.99,203.69 272.45,204.2 275.91,205.39 279.37,205.28 282.83,206.81 286.3,206.6 289.76,206.38 293.22,207 296.68,207.3 300.14,208.45 303.6,208.1 307.06,208.12 310.19,209.42 310.7,209.29"/>
</g>
<line x1="51.1" y1="35.3" x2="51.1" y2="216.6" stroke="#000" stroke-width="2.3" stroke-linecap="butt"/>
<line x1="50" y1="215.5" x2="311.81" y2="215.5" stroke="#000" stroke-width="2.2" stroke-linecap="butt"/>
<line x1="44.8" y1="215.5" x2="51.1" y2="215.5" stroke="#000" stroke-width="2.4" stroke-linecap="butt"/>
<text transform="translate(45.9,223) scale(1.03,1)" font-size="18.2" text-anchor="end" font-weight="normal" fill="#000">0.0</text>
<line x1="44.8" y1="140.45" x2="51.1" y2="140.45" stroke="#000" stroke-width="2.4" stroke-linecap="butt"/>
<text transform="translate(45.9,147.95) scale(1.03,1)" font-size="18.2" text-anchor="end" font-weight="normal" fill="#000">0.5</text>
<line x1="44.8" y1="65.4" x2="51.1" y2="65.4" stroke="#000" stroke-width="2.4" stroke-linecap="butt"/>
<text transform="translate(45.9,72.9) scale(1.03,1)" font-size="18.2" text-anchor="end" font-weight="normal" fill="#000">1.0</text>
<line x1="51.1" y1="215.5" x2="51.1" y2="222" stroke="#000" stroke-width="2.2" stroke-linecap="butt"/>
<text transform="translate(51.7,240.5) scale(1.03,1)" font-size="18.2" text-anchor="middle" font-weight="normal" fill="#000">0</text>
<line x1="137.63" y1="215.5" x2="137.63" y2="222" stroke="#000" stroke-width="2.2" stroke-linecap="butt"/>
<text transform="translate(138.23,240.5) scale(1.03,1)" font-size="18.2" text-anchor="middle" font-weight="normal" fill="#000">50</text>
<line x1="224.17" y1="215.5" x2="224.17" y2="222" stroke="#000" stroke-width="2.2" stroke-linecap="butt"/>
<text transform="translate(226.57,240.5) scale(1.03,1)" font-size="18.2" text-anchor="middle" font-weight="normal" fill="#000">100</text>
<line x1="310.7" y1="215.5" x2="310.7" y2="222" stroke="#000" stroke-width="2.2" stroke-linecap="butt"/>
<text transform="translate(313.11,240.5) scale(1.03,1)" font-size="18.2" text-anchor="middle" font-weight="normal" fill="#000">150</text>
<text transform="translate(182,267.5) scale(1.03,1)" font-size="18" text-anchor="middle" font-weight="normal" fill="#000">time [s]</text>
<text transform="translate(15.4,116.75) rotate(-90)" font-size="18.5" text-anchor="middle" font-weight="normal" fill="#000">normalized signal</text>
<text transform="translate(74.2,48.7)" font-size="12.2" text-anchor="start" font-weight="normal" fill="#000">Pyruvate</text>
<text transform="translate(177.2,107)" font-size="12.2" text-anchor="start" font-weight="normal" fill="#000">Lactate</text>
<text transform="translate(1.6,13.8)" font-size="18" text-anchor="start" font-weight="bold" fill="#000">a</text>
<g fill="none" stroke="#000" stroke-width="1.25" stroke-linejoin="round">
<polyline points="408,204.61 410.99,207.74 414.45,206.85 417.91,206.7 421.37,206.14 424.84,206.46 428.3,205.03 431.76,203.84 435.22,203.79 438.68,206.59 442.14,206.77 445.6,194.01 449.07,107.51 452.53,60.3 455.99,76.56 459.45,93.54 462.91,103.39 466.37,114.99 469.83,132.28 473.3,141.12 476.76,155.76 480.22,156.85 483.68,160.18 487.14,171.65 490.6,179.05 494.06,189.9 497.53,188.59 500.99,196.85 504.45,191.57 507.91,191.22 511.37,194.45 514.83,200.25 518.29,200.65 521.76,205.4 525.22,203.96 528.68,202.4 532.14,205.09 535.6,203.7 539.06,205.94 542.52,206.63 545.99,209.97 549.45,205.84 552.91,206.55 556.37,204.91 559.83,205.9 563.29,209.7 566.75,205.61 570.22,209.73 573.68,208.46 577.14,209.77 580.6,207.33 584.06,208.6 587.52,207.19 590.98,208.3 594.44,207.56 597.91,206.46 601.37,207.71 604.83,206.26 608.29,208.81 611.75,204.22 615.21,208.85 618.67,205.39 622.14,204.45 625.6,206.53 629.06,209.1 632.52,207.83 635.98,203.01 639.44,209.54 642.9,202.02 646.37,208.13 649.83,205.99 653.29,207.69 656.75,208.94 660.21,209.49 663.67,210.11 667.61,206.23"/>
<polyline points="408,205.78 411.18,208.99 414.64,208.35 418.1,205.93 421.56,208.23 425.02,210.24 428.49,210.29 431.95,204.38 435.41,206.2 438.87,209.21 442.33,206.74 445.79,204.78 449.25,205.57 452.72,139.85 456.18,60.3 459.64,74.67 463.1,88.41 466.56,99.48 470.02,120.92 473.48,129.47 476.95,147.69 480.41,155.02 483.87,157.6 487.33,172 490.79,170.89 494.25,173.48 497.71,184.98 501.18,188.73 504.64,190.01 508.1,193.99 511.56,195.97 515.02,199.43 518.48,197.2 521.94,200.79 525.4,203.34 528.87,209.17 532.33,206.87 535.79,206.08 539.25,204.21 542.71,208.7 546.17,206.38 549.63,205.82 553.1,210.69 556.56,206.3 560.02,206.89 563.48,208.04 566.94,208.6 570.4,203.18 573.86,207.22 577.33,206.49 580.79,203.96 584.25,205.21 587.71,208.85 591.17,205.31 594.63,203.29 598.09,205.95 601.56,204.29 605.02,203.88 608.48,206.07 611.94,208.6 615.4,206.33 618.86,209.12 622.32,207.98 625.79,210.24 629.25,208.22 632.71,208.59 636.17,205.2 639.63,207.31 643.09,209.23 646.55,208.66 650.02,205.97 653.48,206.65 656.94,209.83 660.4,206.04 663.86,207.03 667.61,208.59"/>
<polyline points="408,205.13 411.67,195.15 415.13,200.09 418.6,190.03 422.06,200.81 425.52,205.26 428.98,201.6 432.44,200.11 435.9,197.72 439.36,198.67 442.83,202.48 446.29,205.4 449.75,204.93 453.21,197.46 456.67,155.33 460.13,60.3 463.59,74.4 467.06,103.66 470.52,110.56 473.98,111.88 477.44,140.74 480.9,132.09 484.36,153.5 487.82,168.58 491.29,159.29 494.75,168.17 498.21,183.82 501.67,187.22 505.13,193.36 508.59,197.02 512.05,208.41 515.52,202.95 518.98,190.14 522.44,202.7 525.9,200.52 529.36,198.48 532.82,202.05 536.28,204.41 539.74,204.63 543.21,193.55 546.67,202.77 550.13,201.82 553.59,199.31 557.05,196.73 560.51,206.32 563.97,200.52 567.44,205.39 570.9,209.25 574.36,207.59 577.82,204.23 581.28,207.81 584.74,186.23 588.2,187.94 591.67,198.27 595.13,194.28 598.59,210.2 602.05,201.82 605.51,204.26 608.97,202.69 612.43,202.19 615.9,197.43 619.36,189.04 622.82,205.07 626.28,204.15 629.74,207.65 633.2,205.71 636.66,203.37 640.13,204.91 643.59,202.89 647.05,208.07 650.51,200.34 653.97,207.39 657.43,200.44 660.89,207.36 664.36,205 667.61,202.26"/>
<polyline points="408,209.89 411.91,210.18 415.37,210.05 418.83,210.03 422.29,209.58 425.75,209.64 429.22,208.61 432.68,208.8 436.14,210.46 439.6,209.11 443.06,210.21 446.52,209.06 449.98,203.05 453.45,120.56 456.91,60.3 460.37,78.52 463.83,98.1 467.29,113.61 470.75,128.33 474.21,142.63 477.68,153.34 481.14,163.89 484.6,173.34 488.06,179.69 491.52,181.54 494.98,188.87 498.44,194.81 501.91,197.27 505.37,199.8 508.83,200.11 512.29,202.64 515.75,202.67 519.21,202.95 522.67,205.9 526.13,206.78 529.6,206.67 533.06,207.98 536.52,209.35 539.98,210.51 543.44,208.42 546.9,210.85 550.36,209.52 553.83,207.37 557.29,209.9 560.75,210.71 564.21,210.01 567.67,209.85 571.13,208.9 574.59,208.73 578.06,209.84 581.52,210.77 584.98,209.68 588.44,208.32 591.9,209.14 595.36,209.77 598.82,208.68 602.29,210.23 605.75,209.52 609.21,209.11 612.67,209.55 616.13,209.68 619.59,209.38 623.05,209.72 626.52,209.62 629.98,210.55 633.44,209.98 636.9,210.55 640.36,209.6 643.82,210.06 647.28,209.49 650.75,210.76 654.21,209.87 657.67,209.24 661.13,208.62 664.59,207.85 667.61,209.83"/>
<polyline points="408,209.54 411.6,210.09 415.06,208.61 418.52,207.49 421.98,208.73 425.44,207.85 428.9,209.87 432.37,209.26 435.83,210.62 439.29,208.58 442.75,209.31 446.21,206.07 449.67,136.33 453.13,60.3 456.6,75.64 460.06,91.25 463.52,110.31 466.98,125.77 470.44,136.99 473.9,152.04 477.36,158.28 480.83,168.04 484.29,175.01 487.75,181.36 491.21,186.4 494.67,188.56 498.13,195.2 501.59,197.1 505.06,198.31 508.52,200.47 511.98,200.4 515.44,203.6 518.9,202.12 522.36,204.88 525.82,207.16 529.29,207.8 532.75,206.17 536.21,210.87 539.67,210.78 543.13,208.48 546.59,209.58 550.05,208.72 553.52,208.42 556.98,207.97 560.44,207.97 563.9,210.45 567.36,209.44 570.82,209.24 574.28,210.61 577.74,209.18 581.21,210.07 584.67,209.83 588.13,209.75 591.59,210.01 595.05,209.67 598.51,207.12 601.97,208.21 605.44,207.08 608.9,208.79 612.36,209.92 615.82,210.53 619.28,208.78 622.74,209.46 626.2,208.22 629.67,209.74 633.13,210.51 636.59,210.82 640.05,208.5 643.51,209.54 646.97,207.91 650.43,209.23 653.9,209.05 657.36,208.91 660.82,208.92 664.28,209.04 667.61,209.22"/>
<polyline points="408,190.72 411.41,207.15 414.87,204.83 418.33,199.53 421.79,204.7 425.25,204.07 428.72,204.85 432.18,201.43 435.64,205.73 439.1,199.55 442.56,208.01 446.02,202.78 449.48,206.05 452.95,194.09 456.41,100.5 459.87,60.3 463.33,73.9 466.79,88.53 470.25,96.17 473.71,124.5 477.18,129.25 480.64,141.85 484.1,151.41 487.56,167.07 491.02,187.26 494.48,176.75 497.94,169.14 501.41,184.39 504.87,190.7 508.33,192.7 511.79,187.95 515.25,196.84 518.71,201.26 522.17,197.32 525.64,193.51 529.1,192.7 532.56,203.28 536.02,194.31 539.48,196.39 542.94,207.22 546.4,208.77 549.87,208.57 553.33,207.26 556.79,204.44 560.25,188.17 563.71,204.97 567.17,201.77 570.63,186.77 574.1,204.84 577.56,202.94 581.02,195.98 584.48,201.26 587.94,205.18 591.4,188.7 594.86,192.08 598.32,207.32 601.79,199.81 605.25,199.61 608.71,207.02 612.17,202.01 615.63,204.3 619.09,199.42 622.55,201.08 626.02,206.38 629.48,209.67 632.94,191.29 636.4,203.02 639.86,194.39 643.32,206.24 646.78,208.05 650.25,194.76 653.71,205.82 657.17,201.85 660.63,202.93 664.09,199.34 667.61,195.7"/>
<polyline points="408,207.84 411.17,206.1 414.63,207.29 418.1,208.32 421.56,209.16 425.02,206.92 428.48,205.93 431.94,210.42 435.4,207.01 438.86,209.03 442.33,209.18 445.79,208.09 449.25,191.83 452.71,107.79 456.17,60.3 459.63,80.67 463.09,96.24 466.55,113.44 470.02,131.37 473.48,138.29 476.94,155.15 480.4,169.02 483.86,173.53 487.32,179.31 490.78,186.33 494.25,188.99 497.71,196.26 501.17,196.87 504.63,199.58 508.09,200.94 511.55,204.73 515.01,205.58 518.48,206.34 521.94,206.09 525.4,208.46 528.86,209 532.32,208.61 535.78,205.2 539.24,207.59 542.71,201.24 546.17,207.67 549.63,206.43 553.09,207.82 556.55,209.18 560.01,206.95 563.47,209.53 566.94,206.37 570.4,207.49 573.86,205.8 577.32,206.56 580.78,205.73 584.24,205.44 587.7,209.05 591.17,205.51 594.63,204.71 598.09,207.68 601.55,209.1 605.01,207.46 608.47,208.48 611.93,206.47 615.4,206.66 618.86,205.48 622.32,206.32 625.78,203.42 629.24,207.91 632.7,207.38 636.16,205.12 639.62,206.6 643.09,206.49 646.55,210.02 650.01,209.52 653.47,208.34 656.93,208.51 660.39,208.1 663.85,208.77 667.61,206.85"/>
<polyline points="408,203.02 411.76,203.98 415.22,206.13 418.68,203.76 422.14,203.43 425.6,198.47 429.07,205.55 432.53,204.24 435.99,205.93 439.45,209.45 442.91,200.28 446.37,202.09 449.83,208.74 453.3,205.27 456.76,147.72 460.22,60.3 463.68,73.41 467.14,102.1 470.6,126.14 474.06,131.94 477.53,151.39 480.99,160.76 484.45,170.88 487.91,183.26 491.37,177.13 494.83,195.52 498.29,186.21 501.76,198.55 505.22,200.6 508.68,197.89 512.14,201.81 515.6,208.09 519.06,195.95 522.52,208.3 525.98,198.57 529.45,203.45 532.91,208.13 536.37,208.46 539.83,199.79 543.29,204.41 546.75,207.13 550.21,204.57 553.68,205.27 557.14,201.7 560.6,206.72 564.06,206.6 567.52,203.91 570.98,200.56 574.44,205.13 577.91,208.35 581.37,207.62 584.83,203.03 588.29,205.78 591.75,199.82 595.21,198.8 598.67,201.74 602.14,206.81 605.6,205.75 609.06,203.46 612.52,206.49 615.98,206.83 619.44,204.11 622.9,198.1 626.37,206.73 629.83,208.79 633.29,196.87 636.75,208.73 640.21,205.98 643.67,205.34 647.13,207.23 650.6,201.48 654.06,207.39 657.52,210.18 660.98,200.06 664.44,208 667.61,196.47"/>
<polyline points="408,203.38 411.44,195.46 414.9,204.53 418.36,207.43 421.82,196.67 425.29,210.69 428.75,202.52 432.21,196.3 435.67,193.81 439.13,189.52 442.59,204.26 446.05,198.59 449.52,205.99 452.98,158.06 456.44,60.3 459.9,92.19 463.36,87.78 466.82,107.66 470.28,126.15 473.75,131.81 477.21,166.76 480.67,145.53 484.13,165.54 487.59,166.76 491.05,177.44 494.51,182.06 497.98,186.4 501.44,177.54 504.9,204.48 508.36,181.82 511.82,187.54 515.28,189.95 518.74,196.54 522.21,199.74 525.67,204.2 529.13,191.55 532.59,197.26 536.05,200.69 539.51,209.21 542.97,202.36 546.43,199.53 549.9,205.06 553.36,197.02 556.82,183.53 560.28,205.88 563.74,205.37 567.2,206.75 570.66,199.42 574.13,204.33 577.59,193.72 581.05,196.56 584.51,198.19 587.97,208.02 591.43,198.06 594.89,201.69 598.36,204.24 601.82,206.09 605.28,198.23 608.74,203.64 612.2,204.86 615.66,194.87 619.12,202.62 622.59,207.03 626.05,202.92 629.51,199.43 632.97,192.23 636.43,197.67 639.89,198.03 643.35,197.57 646.82,199.91 650.28,208.74 653.74,209.31 657.2,202.44 660.66,197.73 664.12,198.18 667.61,208.22"/>
<polyline points="408,209.25 411.84,210.51 415.3,206.27 418.76,208.37 422.23,205.69 425.69,206.35 429.15,208.31 432.61,208.08 436.07,210.45 439.53,209.55 442.99,209.57 446.46,195.23 449.92,88.38 453.38,60.3 456.84,74.68 460.3,85.01 463.76,111.53 467.22,129.71 470.69,134.15 474.15,140.1 477.61,158.24 481.07,166.06 484.53,173.08 487.99,173.99 491.45,189.34 494.92,185.54 498.38,191.4 501.84,194.86 505.3,198.1 508.76,197.54 512.22,198.37 515.68,207.44 519.14,204.71 522.61,202.93 526.07,208.86 529.53,200.83 532.99,202.94 536.45,207.81 539.91,208.57 543.37,206.15 546.84,205.85 550.3,204.03 553.76,209.73 557.22,209.9 560.68,206.64 564.14,205.14 567.6,209.95 571.07,207.91 574.53,209.7 577.99,209.34 581.45,207.92 584.91,210.1 588.37,206.84 591.83,204.86 595.3,209.93 598.76,207.12 602.22,206.6 605.68,207.81 609.14,209.28 612.6,203.01 616.06,206.52 619.53,208.34 622.99,202.27 626.45,206.28 629.91,207.58 633.37,209.42 636.83,206.89 640.29,209.12 643.76,204.36 647.22,208.44 650.68,208.51 654.14,209.77 657.6,210.47 661.06,209.03 664.52,207.33 667.61,208.91"/>
<polyline points="408,205.25 412.13,209.46 415.59,206.43 419.06,208.75 422.52,208.01 425.98,199.4 429.44,203.48 432.9,204.21 436.36,204.5 439.82,202.72 443.29,194.33 446.75,203.58 450.21,196.02 453.67,120.03 457.13,60.3 460.59,82 464.05,96.63 467.52,126.62 470.98,136.07 474.44,149.63 477.9,151.7 481.36,169.68 484.82,180.4 488.28,189.08 491.74,195.01 495.21,204.75 498.67,204.65 502.13,202.64 505.59,202.89 509.05,204.21 512.51,197.22 515.97,208.31 519.44,206.2 522.9,196.85 526.36,208.62 529.82,206 533.28,202.37 536.74,206.8 540.2,208.04 543.67,204.9 547.13,209.7 550.59,208.33 554.05,206.59 557.51,206.33 560.97,206.94 564.43,205.4 567.9,204.71 571.36,203.77 574.82,198.51 578.28,209.48 581.74,205.77 585.2,208.04 588.66,197.8 592.13,203.89 595.59,207.75 599.05,206.96 602.51,205.51 605.97,210.35 609.43,206.6 612.89,206.73 616.36,204.16 619.82,205.22 623.28,204.72 626.74,210.25 630.2,202.73 633.66,203.42 637.12,208.91 640.59,203.57 644.05,199.95 647.51,205.07 650.97,207.62 654.43,207.4 657.89,205.18 661.35,204.16 664.81,206.78 667.61,200.61"/>
<polyline points="408,207.8 410.77,204.83 414.23,205.2 417.69,209.07 421.15,202.49 424.62,208.66 428.08,208.13 431.54,206.83 435,208.93 438.46,206.4 441.92,208.88 445.38,205.94 448.85,208.13 452.31,200.55 455.77,143.06 459.23,60.3 462.69,81.71 466.15,94.39 469.61,115.86 473.08,127.24 476.54,137.86 480,152.51 483.46,160.9 486.92,175.68 490.38,183.27 493.84,182.58 497.31,193.56 500.77,190.28 504.23,197.71 507.69,193.93 511.15,200.39 514.61,202.35 518.07,197.01 521.54,201.06 525,204.44 528.46,204.29 531.92,206.11 535.38,208.41 538.84,203.81 542.3,207.81 545.77,206.97 549.23,207.05 552.69,206.47 556.15,203.77 559.61,204.66 563.07,208 566.53,203.95 569.99,206.99 573.46,210.32 576.92,209.31 580.38,206.2 583.84,206.7 587.3,206.64 590.76,209.65 594.22,207.17 597.69,208.46 601.15,206.74 604.61,208.89 608.07,210.31 611.53,209.04 614.99,209.33 618.45,202.65 621.92,207.64 625.38,210.78 628.84,207.21 632.3,202.69 635.76,203.83 639.22,201.38 642.68,208.39 646.15,209.86 649.61,208.44 653.07,207.67 656.53,207.66 659.99,205.58 663.45,206.38 667.61,208.42"/>
<polyline points="408,209.75 411.81,209.21 415.27,210.12 418.73,208.94 422.19,209.14 425.65,209.84 429.11,207.5 432.58,209.44 436.04,209.02 439.5,209.9 442.96,208.6 446.42,208.01 449.88,207.27 453.34,207.04 456.81,127.81 460.27,60.3 463.73,73.88 467.19,92.35 470.65,106.76 474.11,117.86 477.57,127.93 481.04,140.69 484.5,151.49 487.96,156.81 491.42,166.88 494.88,173.62 498.34,179.89 501.8,183.99 505.27,186.08 508.73,192.33 512.19,193.47 515.65,198.18 519.11,197.78 522.57,203 526.03,201.93 529.5,202.41 532.96,206.92 536.42,206.55 539.88,207.7 543.34,206.99 546.8,205.63 550.26,209.35 553.73,210.6 557.19,204.62 560.65,209.4 564.11,209.51 567.57,209.16 571.03,207.28 574.49,210.1 577.95,210 581.42,210.06 584.88,207.25 588.34,209.88 591.8,209.64 595.26,209.2 598.72,209.24 602.18,209.93 605.65,208.28 609.11,209.46 612.57,206.71 616.03,209.01 619.49,209.81 622.95,208.39 626.41,209.96 629.88,209.97 633.34,208.51 636.8,206.98 640.26,208.87 643.72,210.11 647.18,209.53 650.64,207.5 654.11,209.89 657.57,207.89 661.03,208.31 664.49,210.06 667.61,209.21"/>
<polyline points="408,207.95 411.73,208.86 415.19,208.82 418.65,209.05 422.11,208.73 425.57,209.13 429.03,209.72 432.49,209.91 435.96,208.97 439.42,209.82 442.88,209.58 446.34,210.3 449.8,207.66 453.26,144.39 456.72,60.3 460.19,75.42 463.65,89.61 467.11,104.73 470.57,115.23 474.03,128.22 477.49,139.63 480.95,149.45 484.42,159.28 487.88,166.23 491.34,173.51 494.8,175.12 498.26,179.87 501.72,184.53 505.18,190.55 508.65,196.05 512.11,193.33 515.57,197.34 519.03,200.11 522.49,201.7 525.95,201.52 529.41,204.31 532.87,203.89 536.34,209.37 539.8,206.05 543.26,208.42 546.72,206.59 550.18,207.24 553.64,206.39 557.1,209.66 560.57,209.24 564.03,207.83 567.49,209.74 570.95,209.39 574.41,210.73 577.87,209.57 581.33,207.84 584.8,210.42 588.26,209.31 591.72,208.82 595.18,210.62 598.64,209.55 602.1,206.59 605.56,209.03 609.03,209.5 612.49,207.14 615.95,208 619.41,208.58 622.87,208.97 626.33,209.5 629.79,209.59 633.26,207.81 636.72,208.98 640.18,209.74 643.64,206.39 647.1,209.21 650.56,210.08 654.02,208.91 657.49,207.9 660.95,209.19 664.41,210.36 667.61,207.58"/>
<polyline points="408,209.11 411.75,208.91 415.21,207.75 418.67,209.26 422.13,207.28 425.59,207.9 429.05,206.25 432.51,207.56 435.98,209.93 439.44,205.59 442.9,206 446.36,209.82 449.82,209.89 453.28,209.84 456.74,208.77 460.2,209.22 463.67,161.39 467.13,109.7 470.59,82.3 474.05,77.6 477.51,76.27 480.97,71.97 484.43,73.67 487.9,72.62 491.36,80.02 494.82,80.41 498.28,86.6 501.74,95.13 505.2,97.63 508.66,104.39 512.13,110.16 515.59,113.43 519.05,126.72 522.51,130.62 525.97,133.56 529.43,141.37 532.89,144.42 536.36,151.28 539.82,151.98 543.28,161.44 546.74,161.86 550.2,165.37 553.66,170.29 557.12,171.34 560.59,179.13 564.05,182.07 567.51,183.69 570.97,188.83 574.43,183.76 577.89,191.69 581.35,193.14 584.82,197.08 588.28,200.04 591.74,196.07 595.2,199.88 598.66,201.81 602.12,197.85 605.58,201.78 609.05,201.18 612.51,206.77 615.97,200.78 619.43,206.44 622.89,205.88 626.35,204.63 629.81,207.34 633.27,207.86 636.74,207.02 640.2,209.78 643.66,206.78 647.12,205.23 650.58,209.28 654.04,207.82 657.5,209.15 660.97,207.2 664.43,208.74 667.61,206.42"/>
<polyline points="408,208.27 410.97,209.79 414.43,208.24 417.89,207.37 421.36,209.07 424.82,209.83 428.28,207.16 431.74,208.08 435.2,207.96 438.66,207.61 442.12,210.12 445.58,209.74 449.05,208.09 452.51,207.41 455.97,209.11 459.43,209.67 462.89,159.77 466.35,110.04 469.81,86.78 473.28,77.43 476.74,76.96 480.2,80.72 483.66,81.75 487.12,85.29 490.58,90.66 494.04,95.44 497.51,99 500.97,105.92 504.43,112.77 507.89,115.77 511.35,120.94 514.81,127.01 518.27,136.35 521.74,141.32 525.2,142.63 528.66,150.2 532.12,151.74 535.58,158.4 539.04,158.96 542.5,166.39 545.97,170.11 549.43,174.08 552.89,176.86 556.35,180.17 559.81,181.89 563.27,184.58 566.73,187.52 570.2,188.55 573.66,190.59 577.12,191.89 580.58,193.85 584.04,195.44 587.5,199.25 590.96,199.86 594.43,203.54 597.89,202.16 601.35,202.93 604.81,202.21 608.27,204.99 611.73,205.34 615.19,206.17 618.65,207.28 622.12,207.35 625.58,209.83 629.04,208.25 632.5,205.6 635.96,206.83 639.42,209.18 642.88,206.19 646.35,209.3 649.81,209.27 653.27,208.78 656.73,207.97 660.19,209.91 663.65,207.18 667.61,206.66"/>
<polyline points="408,204.19 411.88,206.4 415.34,209.84 418.81,209.37 422.27,207.83 425.73,209.62 429.19,208.34 432.65,208.17 436.11,208.27 439.57,209.92 443.04,209.56 446.5,207.99 449.96,207.27 453.42,206.86 456.88,210.28 460.34,190.49 463.8,154.04 467.27,117.85 470.73,96.49 474.19,94.91 477.65,93.34 481.11,91.77 484.57,92.97 488.03,96.89 491.5,101.26 494.96,108.61 498.42,105.94 501.88,111.26 505.34,121.95 508.8,123.35 512.26,129.88 515.72,135.75 519.19,137.68 522.65,146.3 526.11,149.85 529.57,151.18 533.03,156.46 536.49,163.15 539.95,164.36 543.42,164.22 546.88,173.92 550.34,176.76 553.8,177.64 557.26,182.13 560.72,183.12 564.18,189.7 567.65,188.34 571.11,192.37 574.57,194.89 578.03,192.97 581.49,198.15 584.95,194.54 588.41,198.92 591.88,202.75 595.34,202.54 598.8,203.71 602.26,202.48 605.72,202.7 609.18,203.85 612.64,203.67 616.11,208.42 619.57,205.24 623.03,207.18 626.49,205.38 629.95,207.02 633.41,204.56 636.87,209.84 640.34,204.63 643.8,208.5 647.26,206.55 650.72,208.05 654.18,208.63 657.64,206.04 661.1,207.14 664.57,209.77 667.61,207.9"/>
<polyline points="408,206.15 412.1,208.68 415.57,205.86 419.03,207.16 422.49,209.06 425.95,204.63 429.41,206.49 432.87,206.94 436.33,209.16 439.8,209.94 443.26,206.51 446.72,208.73 450.18,208.86 453.64,207.19 457.1,208.27 460.56,204.1 464.03,174.14 467.49,133.8 470.95,112.3 474.41,110.67 477.87,100.45 481.33,102.2 484.79,103.03 488.26,95.84 491.72,105.3 495.18,106.52 498.64,115.54 502.1,110.9 505.56,118.67 509.02,124.29 512.49,123.71 515.95,124.66 519.41,135.43 522.87,131.74 526.33,142.29 529.79,149.82 533.25,148.61 536.72,157.91 540.18,155.54 543.64,163.11 547.1,169.94 550.56,172.38 554.02,175.06 557.48,174.8 560.94,182.84 564.41,180.5 567.87,184.31 571.33,188.37 574.79,185.74 578.25,192.47 581.71,191.07 585.17,196.38 588.64,195.71 592.1,200.47 595.56,200.17 599.02,199.54 602.48,202.36 605.94,208.47 609.4,205.29 612.87,203.78 616.33,207.74 619.79,203.58 623.25,208.11 626.71,204.85 630.17,203.64 633.63,205.48 637.1,204.28 640.56,207.4 644.02,205.76 647.48,210.64 650.94,208.22 654.4,207.25 657.86,208.7 661.33,205.99 664.79,204.35 667.61,202.46"/>
<polyline points="408,209.16 411.54,209.5 415,209.08 418.47,209.17 421.93,209.16 425.39,210.35 428.85,210.25 432.31,207.33 435.77,209.3 439.23,208.66 442.7,210.61 446.16,210.4 449.62,209.87 453.08,206.93 456.54,208.88 460,200.12 463.46,171.55 466.92,142.59 470.39,126.36 473.85,118.03 477.31,116.61 480.77,112.04 484.23,112.35 487.69,118.31 491.15,118.19 494.62,125.96 498.08,130.32 501.54,130.08 505,134.78 508.46,141.94 511.92,144.44 515.38,150.9 518.85,153.03 522.31,155.1 525.77,162.28 529.23,165.56 532.69,167.86 536.15,173.99 539.61,175.95 543.08,180.34 546.54,180.66 550,184.05 553.46,187.05 556.92,187.91 560.38,192.23 563.84,192.53 567.31,196.36 570.77,197.31 574.23,197.17 577.69,197.86 581.15,200.35 584.61,200.19 588.07,203.88 591.54,205.41 595,205.33 598.46,205.15 601.92,205.48 605.38,205.03 608.84,209.82 612.3,208.29 615.77,209.39 619.23,209.08 622.69,207.38 626.15,207.89 629.61,209.42 633.07,209.17 636.53,210.38 639.99,208.1 643.46,209.88 646.92,208.95 650.38,209.19 653.84,208.78 657.3,209.35 660.76,210.64 664.22,208.04 667.61,207.59"/>
<polyline points="408,209.72 411.13,209.22 414.59,209.78 418.05,209.45 421.51,208.19 424.97,208.28 428.43,209.86 431.9,210.25 435.36,207.54 438.82,208.07 442.28,208.26 445.74,208.79 449.2,208.07 452.66,207.17 456.13,209.74 459.59,207.08 463.05,183.77 466.51,159.3 469.97,141.05 473.43,137.49 476.89,132.45 480.36,127.4 483.82,128.9 487.28,128.54 490.74,129.03 494.2,135.02 497.66,136.17 501.12,134.42 504.59,141.65 508.05,143.33 511.51,148.44 514.97,153.65 518.43,156.15 521.89,161.34 525.35,165.64 528.81,168.07 532.28,169.12 535.74,173.22 539.2,174.74 542.66,177.81 546.12,182.19 549.58,181.4 553.04,185.2 556.51,187.84 559.97,188.58 563.43,192.46 566.89,193.44 570.35,193.27 573.81,195.76 577.27,201.44 580.74,200.03 584.2,202.09 587.66,203.94 591.12,201.76 594.58,202.11 598.04,203.72 601.5,208.23 604.97,204.6 608.43,208.91 611.89,205.99 615.35,204 618.81,207.91 622.27,208.02 625.73,207.98 629.2,206.72 632.66,210 636.12,209.93 639.58,208.23 643.04,209.92 646.5,208.98 649.96,209 653.43,209.09 656.89,208.2 660.35,209.78 663.81,208.4 667.61,208.41"/>
<polyline points="408,208.99 412.03,208.63 415.5,209.97 418.96,208.72 422.42,209.68 425.88,206.1 429.34,208.96 432.8,209.21 436.26,208.14 439.73,208.52 443.19,208.89 446.65,208.77 450.11,210.11 453.57,207.22 457.03,210.5 460.49,192.96 463.95,172.65 467.42,158.8 470.88,148.81 474.34,143.65 477.8,138.24 481.26,137.87 484.72,137.51 488.18,141.78 491.65,141.84 495.11,144.83 498.57,147.35 502.03,150.6 505.49,151.58 508.95,153.37 512.41,156.11 515.88,162.84 519.34,164.03 522.8,168.03 526.26,171.07 529.72,173.4 533.18,176.22 536.64,177.37 540.11,181.07 543.57,184.49 547.03,185.47 550.49,186.13 553.95,193.58 557.41,195.2 560.87,196.45 564.34,195.75 567.8,197.49 571.26,197.73 574.72,198.33 578.18,199.64 581.64,199.91 585.1,200.28 588.57,203.65 592.03,203.92 595.49,207.63 598.95,201.84 602.41,206.62 605.87,204.24 609.33,206.49 612.8,208.54 616.26,206.91 619.72,206.14 623.18,208.25 626.64,208.63 630.1,209.26 633.56,208.59 637.02,210.28 640.49,210.5 643.95,208.32 647.41,209.92 650.87,208.28 654.33,210.09 657.79,208.36 661.25,209.77 664.72,206.56 667.61,207.12"/>
<polyline points="408,207.53 411.58,210.15 415.04,208.72 418.5,208.04 421.96,206.75 425.42,207.7 428.88,205.61 432.34,209.89 435.81,210.17 439.27,209.66 442.73,209.39 446.19,206.01 449.65,205.76 453.11,208.86 456.57,205.61 460.04,198.2 463.5,178.91 466.96,164.96 470.42,154.96 473.88,150.54 477.34,151.91 480.8,152.21 484.26,149.48 487.73,156.08 491.19,153.81 494.65,157.69 498.11,155.62 501.57,160.17 505.03,163.82 508.49,166.56 511.96,165.52 515.42,170.76 518.88,176.11 522.34,178.13 525.8,175.6 529.26,181.06 532.72,183.93 536.19,183.2 539.65,185.92 543.11,187.77 546.57,184.28 550.03,192.33 553.49,195.21 556.95,196.57 560.42,196.1 563.88,196.31 567.34,200.68 570.8,195.53 574.26,203.72 577.72,201.58 581.18,201.47 584.65,203.11 588.11,205.1 591.57,203.03 595.03,204.76 598.49,210.5 601.95,202.55 605.41,206.25 608.88,208.6 612.34,205.69 615.8,204.74 619.26,207.47 622.72,209.36 626.18,206.72 629.64,209.89 633.11,207.83 636.57,207.32 640.03,206.36 643.49,208.82 646.95,209.53 650.41,206.77 653.87,205.43 657.33,206.14 660.8,209.49 664.26,210.24 667.61,209.94"/>
<polyline points="408,209.56 412.14,208.37 415.6,208.21 419.06,209.15 422.52,210.34 425.98,209.99 429.44,209.38 432.91,208.78 436.37,210.53 439.83,206.31 443.29,209.05 446.75,209.52 450.21,209.02 453.67,207.5 457.14,207.04 460.6,187.6 464.06,174.57 467.52,167.14 470.98,161.19 474.44,160.37 477.9,156.33 481.37,158.21 484.83,159.13 488.29,162.28 491.75,164.76 495.21,167.99 498.67,168.55 502.13,169.18 505.59,173.16 509.06,175.21 512.52,178.78 515.98,181.12 519.44,181.97 522.9,185.61 526.36,184.3 529.82,190.13 533.29,188.1 536.75,191.16 540.21,192 543.67,194.97 547.13,192.51 550.59,197.15 554.05,197.32 557.52,200.06 560.98,199.31 564.44,201.29 567.9,202.14 571.36,203.69 574.82,206.77 578.28,204.63 581.75,206.69 585.21,204 588.67,207.71 592.13,206.6 595.59,206.68 599.05,208.76 602.51,204.19 605.98,208.88 609.44,207.2 612.9,208.95 616.36,209.24 619.82,210.19 623.28,209.33 626.74,209.8 630.21,208.98 633.67,207.82 637.13,207.84 640.59,210.82 644.05,210.04 647.51,208.22 650.97,205.16 654.44,209.52 657.9,209.37 661.36,209.43 664.82,210.26 667.61,209.14"/>
<polyline points="408,208.57 411.1,204.61 414.57,209.96 418.03,205.82 421.49,201.07 424.95,208.77 428.41,208.4 431.87,206.54 435.33,206.69 438.8,208.54 442.26,207.12 445.72,207.61 449.18,207.7 452.64,208.52 456.1,203.5 459.56,206.24 463.03,194.04 466.49,182.01 469.95,173.22 473.41,168.66 476.87,164.42 480.33,168.34 483.79,168.04 487.26,168.94 490.72,173.84 494.18,179.54 497.64,177.42 501.1,169.72 504.56,184.19 508.02,181.71 511.48,177.31 514.95,189.47 518.41,187.17 521.87,189.86 525.33,188.16 528.79,193.87 532.25,194.68 535.71,193.12 539.18,191.37 542.64,197.08 546.1,197.81 549.56,198.07 553.02,198.98 556.48,204.42 559.94,200.89 563.41,197.33 566.87,199.02 570.33,205.79 573.79,202.7 577.25,204.24 580.71,204.26 584.17,207.3 587.64,204.14 591.1,199.91 594.56,201.77 598.02,208.74 601.48,207.71 604.94,205.79 608.4,209.25 611.87,207.38 615.33,203.53 618.79,209.49 622.25,205.46 625.71,203.89 629.17,203.42 632.63,201.64 636.1,203.95 639.56,204.4 643.02,209.3 646.48,203.65 649.94,210.44 653.4,205.16 656.86,199.26 660.33,209.31 663.79,205.2 667.61,207.9"/>
</g>
<line x1="408" y1="30.7" x2="408" y2="212.1" stroke="#000" stroke-width="2.3" stroke-linecap="butt"/>
<line x1="406.9" y1="211" x2="668.71" y2="211" stroke="#000" stroke-width="2.2" stroke-linecap="butt"/>
<line x1="401.7" y1="211" x2="408" y2="211" stroke="#000" stroke-width="2.4" stroke-linecap="butt"/>
<text transform="translate(402.8,218.5) scale(1.03,1)" font-size="18.2" text-anchor="end" font-weight="normal" fill="#000">0.0</text>
<line x1="401.7" y1="135.65" x2="408" y2="135.65" stroke="#000" stroke-width="2.4" stroke-linecap="butt"/>
<text transform="translate(402.8,143.15) scale(1.03,1)" font-size="18.2" text-anchor="end" font-weight="normal" fill="#000">0.5</text>
<line x1="401.7" y1="60.3" x2="408" y2="60.3" stroke="#000" stroke-width="2.4" stroke-linecap="butt"/>
<text transform="translate(402.8,67.8) scale(1.03,1)" font-size="18.2" text-anchor="end" font-weight="normal" fill="#000">1.0</text>
<line x1="408" y1="211" x2="408" y2="217.5" stroke="#000" stroke-width="2.2" stroke-linecap="butt"/>
<text transform="translate(408.6,236) scale(1.03,1)" font-size="18.2" text-anchor="middle" font-weight="normal" fill="#000">0</text>
<line x1="494.53" y1="211" x2="494.53" y2="217.5" stroke="#000" stroke-width="2.2" stroke-linecap="butt"/>
<text transform="translate(495.13,236) scale(1.03,1)" font-size="18.2" text-anchor="middle" font-weight="normal" fill="#000">50</text>
<line x1="581.07" y1="211" x2="581.07" y2="217.5" stroke="#000" stroke-width="2.2" stroke-linecap="butt"/>
<text transform="translate(583.47,236) scale(1.03,1)" font-size="18.2" text-anchor="middle" font-weight="normal" fill="#000">100</text>
<line x1="667.61" y1="211" x2="667.61" y2="217.5" stroke="#000" stroke-width="2.2" stroke-linecap="butt"/>
<text transform="translate(670,236) scale(1.03,1)" font-size="18.2" text-anchor="middle" font-weight="normal" fill="#000">150</text>
<text transform="translate(538.7,263) scale(1.03,1)" font-size="18" text-anchor="middle" font-weight="normal" fill="#000">time [s]</text>
<text transform="translate(372.6,114.8) rotate(-90)" font-size="18.5" text-anchor="middle" font-weight="normal" fill="#000">normalized signal</text>
<text transform="translate(432.6,48.8)" font-size="12.2" text-anchor="start" font-weight="normal" fill="#000">Pyruvate</text>
<text transform="translate(531.1,107)" font-size="12.2" text-anchor="start" font-weight="normal" fill="#000">Lactate</text>
<text transform="translate(360,13.8)" font-size="18" text-anchor="start" font-weight="bold" fill="#000">b</text>
<g fill="none" stroke="#8e8e8e" stroke-width="1.3" stroke-linejoin="round">
<polyline points="51.1,494.87 53.72,494.48 57.18,494.56 60.64,493.78 64.1,494.75 67.56,494.48 71.03,493.82 74.49,494.76 77.95,493.87 81.41,494.27 84.87,494.9 88.33,486.98 91.79,359.06 95.25,345 98.72,355.03 102.18,367.94 105.64,380.46 109.1,393.62 112.56,406.32 116.02,417.03 119.48,426.59 122.95,434.66 126.41,443.79 129.87,450.83 133.33,459.22 136.79,463.28 140.25,467.94 143.71,470.78 147.18,474.5 150.64,478.69 154.1,481.03 157.56,483.71 161.02,486.16 164.48,487.12 167.94,488.87 171.41,489.38 174.87,490.11 178.33,491.59 181.79,491.36 185.25,493.61 188.71,493.22 192.17,493.24 195.64,494.29 199.1,493.63 202.56,493.61 206.02,493.27 209.48,494.5 212.94,494.16 216.4,494.46 219.87,494.15 223.33,494.3 226.79,494.5 230.25,494.65 233.71,494.24 237.17,495 240.63,493.8 244.1,494.21 247.56,495.04 251.02,494.57 254.48,494.92 257.94,495.07 261.4,493.71 264.86,494.54 268.32,495.08 271.79,495.1 275.25,494.57 278.71,493.94 282.17,494.42 285.63,494.25 289.09,493.03 292.55,494.57 296.02,494.78 299.48,494.09 302.94,495.13 306.4,495.04 309.86,495.03 310.7,493.78"/>
<polyline points="51.1,494.27 53.91,492.79 57.38,492.89 60.84,492.61 64.3,494.5 67.76,494.96 71.22,493.45 74.68,494.15 78.14,493.94 81.61,494.25 85.07,492.99 88.53,475.47 91.99,361.53 95.45,353.59 98.91,345 102.37,355.05 105.83,367.78 109.3,380.05 112.76,391.52 116.22,403.65 119.68,413.78 123.14,424.1 126.6,433.59 130.06,440.32 133.53,447.54 136.99,456.92 140.45,459.91 143.91,465.79 147.37,470.81 150.83,472.39 154.29,476.33 157.76,478.79 161.22,482.58 164.68,481.84 168.14,485.07 171.6,487.92 175.06,486.26 178.52,490.52 181.99,488.68 185.45,491.35 188.91,492.76 192.37,493.5 195.83,494.34 199.29,493.39 202.75,492.11 206.22,493.86 209.68,493.97 213.14,493.5 216.6,493.81 220.06,494.2 223.52,494.3 226.98,494.82 230.45,492.7 233.91,492.9 237.37,492.49 240.83,491.48 244.29,493.72 247.75,494.02 251.21,494.52 254.68,493.93 258.14,495.2 261.6,494.65 265.06,494.01 268.52,493.18 271.98,491.71 275.44,492.98 278.9,494.68 282.37,492.89 285.83,494.09 289.29,494.01 292.75,494.64 296.21,494.23 299.67,494.63 303.13,493.89 306.6,494.5 310.06,493.51 310.7,492.88"/>
<polyline points="51.1,494.95 54.65,494.18 58.11,494.42 61.57,495.32 65.03,495.02 68.49,493.82 71.96,495.28 75.42,494.53 78.88,494.76 82.34,494.11 85.8,493.61 89.26,494.02 92.72,470.09 96.18,359.07 99.65,345 103.11,356.84 106.57,369.21 110.03,384.64 113.49,399.23 116.95,409.66 120.41,421.54 123.88,431.4 127.34,442.21 130.8,449.28 134.26,455.84 137.72,462.91 141.18,466.08 144.64,472.9 148.11,475.74 151.57,480.32 155.03,482.86 158.49,484.88 161.95,486.55 165.41,487.85 168.87,488.93 172.34,492.05 175.8,491.21 179.26,492.33 182.72,493.61 186.18,493.71 189.64,492.97 193.1,493.37 196.57,494.52 200.03,494.78 203.49,494.7 206.95,493.64 210.41,494.71 213.87,495.23 217.33,494.03 220.8,493.53 224.26,494.58 227.72,494.43 231.18,494.05 234.64,493.26 238.1,493.5 241.56,494.88 245.03,494.74 248.49,494.64 251.95,494.44 255.41,494.96 258.87,495.3 262.33,494.66 265.79,494.57 269.25,493.51 272.72,494.65 276.18,494.92 279.64,494.59 283.1,494.37 286.56,494.01 290.02,495.1 293.48,494.53 296.95,493.97 300.41,494.44 303.87,494.63 307.33,494.96 310.19,494.56 310.7,494.8"/>
<polyline points="51.1,494.67 54.76,494.77 58.22,494.55 61.69,495.24 65.15,495.17 68.61,494.5 72.07,495.1 75.53,495.01 78.99,494.67 82.45,494.38 85.92,494.71 89.38,494.15 92.84,483.72 96.3,368.21 99.76,358.03 103.22,345 106.68,355.08 110.15,369.51 113.61,383.62 117.07,397.38 120.53,410.38 123.99,421.99 127.45,433.18 130.91,441.29 134.38,448.98 137.84,455.27 141.3,463.09 144.76,467.77 148.22,472.15 151.68,476.63 155.14,479.92 158.61,482.57 162.07,484.8 165.53,485.32 168.99,489.32 172.45,490.3 175.91,491.5 179.37,490.8 182.84,491.71 186.3,493.46 189.76,492.45 193.22,493.71 196.68,492.53 200.14,494.16 203.6,493.39 207.06,494.97 210.53,494.15 213.99,494.59 217.45,495.18 220.91,494.12 224.37,492.89 227.83,493.99 231.29,494.8 234.76,494.57 238.22,494.51 241.68,494.46 245.14,493.87 248.6,494.8 252.06,494.81 255.52,494.66 258.99,493.84 262.45,495.04 265.91,494.41 269.37,494.55 272.83,494.64 276.29,494.18 279.75,493.86 283.22,494.81 286.68,493.83 290.14,494.2 293.6,495.09 297.06,494.45 300.52,494.55 303.98,494.92 307.45,494.18 310.19,494.25 310.7,494.24"/>
<polyline points="51.1,494.68 54.17,493.82 57.63,493.16 61.09,494.74 64.55,494.78 68.01,494.87 71.47,494.16 74.93,494.02 78.4,494.89 81.86,494.61 85.32,494.87 88.78,474.59 92.24,377.39 95.7,366.73 99.16,355.76 102.63,345 106.09,354.57 109.55,365.6 113.01,380.13 116.47,391.52 119.93,401.79 123.39,413.66 126.85,424.31 130.32,431.72 133.78,439.7 137.24,447.14 140.7,453.68 144.16,460.67 147.62,462.59 151.08,469.59 154.55,473.36 158.01,475.53 161.47,478.51 164.93,481.38 168.39,483.41 171.85,484.88 175.31,486.56 178.78,488.89 182.24,489.24 185.7,490.07 189.16,490.78 192.62,491.78 196.08,493.16 199.54,492.51 203.01,492.65 206.47,493.35 209.93,495.17 213.39,493.81 216.85,493.17 220.31,493.96 223.77,494.45 227.24,494.44 230.7,494.62 234.16,494.6 237.62,494.58 241.08,494.74 244.54,495.04 248,493.69 251.47,494.39 254.93,494.07 258.39,495.3 261.85,494.98 265.31,493.6 268.77,494.49 272.23,494.25 275.7,495.2 279.16,494.93 282.62,493.94 286.08,494.58 289.54,495.03 293,494.53 296.46,494.17 299.92,494.32 303.39,494.22 306.85,494.1 310.19,494.24 310.7,495.21"/>
<polyline points="51.1,494.64 53.3,490.45 56.76,489.77 60.22,493.42 63.68,492.9 67.14,486.07 70.6,491.58 74.06,488.5 77.53,491.96 80.99,491.12 84.45,492.77 87.91,488.97 91.37,482.11 94.83,361.25 98.29,351.64 101.76,347.26 105.22,345 108.68,358.76 112.14,370.79 115.6,381.24 119.06,394.76 122.52,401.91 125.98,414.23 129.45,423.09 132.91,433.75 136.37,441.03 139.83,447.94 143.29,455.47 146.75,463.3 150.21,462.08 153.68,471.45 157.14,479.37 160.6,482.64 164.06,478.54 167.52,483.24 170.98,484.9 174.44,490.24 177.91,486.86 181.37,485.55 184.83,487.21 188.29,491.83 191.75,491.33 195.21,491.14 198.67,493.96 202.14,493.4 205.6,493.63 209.06,487.45 212.52,487.43 215.98,494.06 219.44,493.33 222.9,490.59 226.37,490.62 229.83,491.82 233.29,492.75 236.75,493.06 240.21,491 243.67,488.79 247.13,489.89 250.6,494.26 254.06,491.82 257.52,489.24 260.98,492.88 264.44,493.64 267.9,494.18 271.36,493.19 274.83,490.3 278.29,489.44 281.75,486.59 285.21,492.34 288.67,490.69 292.13,490.96 295.59,492.6 299.05,494.68 302.52,494.14 305.98,488.56 309.44,493.2 310.7,490.95"/>
<polyline points="51.1,494.23 54.59,494.97 58.06,494 61.52,493.88 64.98,493.87 68.44,493.92 71.9,494.57 75.36,495.04 78.82,493.42 82.29,494.17 85.75,494.04 89.21,493.48 92.67,477.09 96.13,370.92 99.59,362.79 103.05,356.14 106.52,350.59 109.98,345 113.44,354.49 116.9,368.33 120.36,382.79 123.82,396.26 127.28,406.11 130.75,419.01 134.21,430.69 137.67,437.71 141.13,448.15 144.59,454.6 148.05,460.27 151.51,465.99 154.98,470.83 158.44,474.99 161.9,478.71 165.36,482.13 168.82,482.86 172.28,483.83 175.74,488 179.21,487.68 182.67,488.69 186.13,491.64 189.59,490.32 193.05,491.17 196.51,492.6 199.97,493.81 203.44,492.7 206.9,492.08 210.36,494.62 213.82,492.14 217.28,492.84 220.74,491.61 224.2,493.55 227.66,492.79 231.13,495.01 234.59,493.47 238.05,495.12 241.51,493.07 244.97,493.13 248.43,493.48 251.89,493.43 255.36,493.7 258.82,494.25 262.28,494.77 265.74,494.45 269.2,494.94 272.66,493.97 276.12,494.7 279.59,493.4 283.05,492.87 286.51,494.56 289.97,492.87 293.43,492.14 296.89,494.14 300.35,494.85 303.82,492.52 307.28,493.5 310.19,491.85 310.7,494.75"/>
<polyline points="51.1,491.31 54.62,492.28 58.08,491.62 61.54,490.52 65.01,492.96 68.47,490.47 71.93,490.12 75.39,491.77 78.85,493.23 82.31,492.27 85.77,492 89.24,490.94 92.7,467.02 96.16,357.45 99.62,345 103.08,353.47 106.54,366.24 110,382.39 113.47,389.11 116.93,403.8 120.39,412.37 123.85,417.71 127.31,429.28 130.77,438.99 134.23,447.99 137.7,455.56 141.16,463.22 144.62,463.89 148.08,463.84 151.54,471.28 155,478.65 158.46,475.53 161.92,482.94 165.39,485.87 168.85,481.64 172.31,482.78 175.77,482.76 179.23,491.15 182.69,488.88 186.15,489.79 189.62,491.59 193.08,492.19 196.54,491.77 200,493.03 203.46,492.66 206.92,491.69 210.38,492.25 213.85,489.79 217.31,493.19 220.77,491.16 224.23,494.41 227.69,493.54 231.15,491.08 234.61,492.14 238.08,492.43 241.54,494.64 245,495.22 248.46,493.37 251.92,492.05 255.38,491.12 258.84,482.33 262.31,489.09 265.77,491.03 269.23,489.63 272.69,493.27 276.15,490.65 279.61,490.27 283.07,493.49 286.54,492.22 290,490.79 293.46,492.43 296.92,492.98 300.38,487.55 303.84,491.53 307.3,491.5 310.19,489.35 310.7,494.77"/>
<polyline points="51.1,492.58 54.43,492.28 57.89,493.48 61.35,492.49 64.81,491.66 68.27,493.24 71.74,491.87 75.2,492.6 78.66,493.14 82.12,494.23 85.58,492.19 89.04,470.86 92.5,355.38 95.97,354.8 99.43,349.5 102.89,345 106.35,350.48 109.81,368.57 113.27,381.68 116.73,390.49 120.2,404.38 123.66,416.87 127.12,426.02 130.58,433.16 134.04,444.26 137.5,451.66 140.96,455.36 144.43,460.86 147.89,467.9 151.35,471.3 154.81,472.6 158.27,480.16 161.73,482.41 165.19,480.45 168.65,483.27 172.12,483.11 175.58,487.29 179.04,488.54 182.5,488.58 185.96,491.87 189.42,493.38 192.88,491.2 196.35,491.63 199.81,491.42 203.27,491.69 206.73,493.15 210.19,494.54 213.65,493.36 217.11,493.34 220.58,493.34 224.04,491.92 227.5,493.16 230.96,493.6 234.42,494.17 237.88,494.9 241.34,489.86 244.81,491.51 248.27,494.59 251.73,493.26 255.19,491.77 258.65,494.51 262.11,494.03 265.57,493.08 269.04,493.68 272.5,491 275.96,493.39 279.42,494.13 282.88,491.21 286.34,493.52 289.8,494.78 293.27,494.25 296.73,493.39 300.19,492.61 303.65,494.22 307.11,493.94 310.19,493.42 310.7,493.34"/>
<polyline points="51.1,492.5 54.46,493.23 57.92,491.42 61.38,492.67 64.84,493.6 68.3,492.23 71.76,494.33 75.22,494.14 78.69,492.56 82.15,490.95 85.61,493.12 89.07,470.04 92.53,364.87 95.99,345 99.45,355.84 102.92,370.01 106.38,383.62 109.84,396.23 113.3,410.25 116.76,422.67 120.22,432.69 123.68,441.77 127.15,449.83 130.61,456.37 134.07,465.21 137.53,467.03 140.99,468.7 144.45,474.55 147.91,480.39 151.37,484.61 154.84,484.74 158.3,486.73 161.76,487.36 165.22,490.97 168.68,492.03 172.14,490.26 175.6,492.47 179.07,490.51 182.53,492.72 185.99,494.07 189.45,492.53 192.91,493.35 196.37,494.57 199.83,492.59 203.3,492.87 206.76,492.1 210.22,493.49 213.68,492.27 217.14,494.14 220.6,491.94 224.06,492.23 227.53,494.39 230.99,493.63 234.45,493.27 237.91,492.45 241.37,493.12 244.83,491.03 248.29,492.47 251.76,492.77 255.22,493.52 258.68,493.54 262.14,494.85 265.6,493.8 269.06,494.89 272.52,491.91 275.99,493.34 279.45,494.66 282.91,491.52 286.37,494.64 289.83,492.18 293.29,493.43 296.75,494.23 300.22,492.1 303.68,492.32 307.14,491.93 310.19,493.27 310.7,494.55"/>
<polyline points="51.1,494.24 54.79,492.1 58.25,493.96 61.71,491.65 65.17,493.99 68.63,495.03 72.09,493.81 75.56,494.95 79.02,492.88 82.48,493.31 85.94,494.19 89.4,482.71 92.86,370.96 96.32,363.71 99.79,358.43 103.25,351.54 106.71,345 110.17,355.92 113.63,370.2 117.09,381.26 120.55,395.23 124.02,407.96 127.48,419.06 130.94,424.83 134.4,436.98 137.86,446.86 141.32,453.21 144.78,460.1 148.24,465.36 151.71,470.06 155.17,472.03 158.63,476.98 162.09,480.94 165.55,480.29 169.01,483.88 172.47,486.03 175.94,487.55 179.4,489.43 182.86,489.05 186.32,492.32 189.78,493.18 193.24,491.9 196.7,494.59 200.17,494.71 203.63,491.58 207.09,490.55 210.55,492.04 214.01,492.99 217.47,493.46 220.93,494.42 224.4,491.04 227.86,494.29 231.32,493.6 234.78,494.19 238.24,493.02 241.7,494.42 245.16,492.91 248.63,493.71 252.09,494.62 255.55,493.41 259.01,494.95 262.47,494.15 265.93,493.06 269.39,494.38 272.86,490.11 276.32,492.41 279.78,494.03 283.24,492.53 286.7,492.28 290.16,492.93 293.62,491.61 297.09,492.03 300.55,492.63 304.01,494.57 307.47,494.45 310.19,493.69 310.7,493.38"/>
<polyline points="51.1,492.84 54.53,490.99 58,493.04 61.46,492.88 64.92,490.58 68.38,492.03 71.84,493.46 75.3,494.5 78.76,493.94 82.23,491.34 85.69,493.28 89.15,487.03 92.61,490.68 96.07,492.38 99.53,366.17 102.99,345 106.46,357.11 109.92,366.28 113.38,383.1 116.84,395.51 120.3,411.71 123.76,423.54 127.22,430.95 130.68,437.2 134.15,453.3 137.61,457.24 141.07,467.18 144.53,471.37 147.99,470.56 151.45,475.27 154.91,480.28 158.38,481.43 161.84,480.6 165.3,489.38 168.76,485.45 172.22,489.02 175.68,492.41 179.14,488.57 182.61,486.29 186.07,493.81 189.53,491.78 192.99,494.41 196.45,493.86 199.91,492.89 203.37,490.1 206.84,491.93 210.3,490.05 213.76,494.04 217.22,491.82 220.68,489.95 224.14,494.19 227.6,492.95 231.07,491.84 234.53,493.39 237.99,493.73 241.45,488 244.91,489.48 248.37,492.3 251.83,492.61 255.3,489.64 258.76,493.19 262.22,493.04 265.68,490.43 269.14,492.17 272.6,491.91 276.06,488.57 279.53,492.67 282.99,492.73 286.45,489.91 289.91,494.06 293.37,491.85 296.83,490 300.29,488.12 303.75,490.47 307.22,493.75 310.19,489.79 310.7,491.6"/>
<polyline points="51.1,494.88 53.92,494.51 57.38,494.2 60.85,494.5 64.31,494.2 67.77,494.34 71.23,493.85 74.69,494.6 78.15,494.68 81.61,493.64 85.08,494.65 88.54,493.64 92,470.66 95.46,374.32 98.92,345 102.38,355.33 105.84,369.32 109.3,383.47 112.77,397.08 116.23,409.84 119.69,422.14 123.15,431.48 126.61,440.25 130.07,449.21 133.53,455.87 137,461.9 140.46,467.49 143.92,472.33 147.38,475.82 150.84,479.34 154.3,483.02 157.76,483.34 161.23,484.11 164.69,487.6 168.15,488.57 171.61,491.14 175.07,491.35 178.53,492.05 181.99,491.9 185.46,493.6 188.92,492.7 192.38,494.11 195.84,493.46 199.3,494.76 202.76,495.04 206.22,494.92 209.69,494.67 213.15,494.75 216.61,494.98 220.07,494.83 223.53,495.22 226.99,494.88 230.45,494.32 233.92,493.71 237.38,494.55 240.84,494.49 244.3,493.44 247.76,494.14 251.22,494.61 254.68,494.01 258.15,494.6 261.61,494.34 265.07,493.89 268.53,494.46 271.99,495.02 275.45,494.69 278.91,494.03 282.37,494.43 285.84,494.44 289.3,494.57 292.76,494.88 296.22,494.53 299.68,494.59 303.14,494.29 306.6,493.97 310.07,494 310.7,495.03"/>
<polyline points="51.1,494.98 53.33,494.64 56.79,494.16 60.25,494.51 63.71,493.42 67.18,494.32 70.64,495.12 74.1,494.78 77.56,494.09 81.02,494.97 84.48,494.24 87.94,495.08 91.41,487.04 94.87,374.08 98.33,366.6 101.79,358.98 105.25,351.79 108.71,345 112.17,355.55 115.64,367.85 119.1,380.64 122.56,394.09 126.02,405.14 129.48,416.56 132.94,427.38 136.4,435.49 139.87,444.1 143.33,449.61 146.79,456.53 150.25,462.29 153.71,467.62 157.17,471.51 160.63,475.1 164.09,479.53 167.56,480.68 171.02,484.53 174.48,486.24 177.94,487.56 181.4,488.46 184.86,489.33 188.32,489.94 191.79,492.44 195.25,492.44 198.71,493.14 202.17,492.78 205.63,493.83 209.09,491.62 212.55,493.06 216.02,494.23 219.48,494.24 222.94,494.48 226.4,495.34 229.86,494.68 233.32,494.87 236.78,495.36 240.25,493.57 243.71,494.19 247.17,493.64 250.63,495.33 254.09,494.5 257.55,494.66 261.01,494.64 264.48,493.96 267.94,494.38 271.4,494.03 274.86,495.21 278.32,494.84 281.78,494.18 285.24,494.22 288.71,494 292.17,494.63 295.63,495.16 299.09,493.73 302.55,494.98 306.01,493.88 309.47,493.62 310.7,494.06"/>
<polyline points="51.1,494.5 54.33,494.67 57.79,494.72 61.25,493.47 64.71,493.79 68.18,493.49 71.64,493.14 75.1,493.76 78.56,494.45 82.02,492.14 85.48,493.04 88.94,493.29 92.4,492.39 95.87,360.49 99.33,355.45 102.79,345 106.25,357.78 109.71,366.37 113.17,379.63 116.63,391.03 120.1,405.04 123.56,410.54 127.02,422.16 130.48,429.95 133.94,441.74 137.4,448.59 140.86,451.83 144.33,458.28 147.79,465.42 151.25,470.15 154.71,474.93 158.17,475.99 161.63,481.37 165.09,480.13 168.56,483.67 172.02,485.24 175.48,488.22 178.94,486.42 182.4,487.54 185.86,491.44 189.32,493.35 192.79,487.88 196.25,494.38 199.71,492.04 203.17,493.18 206.63,489.67 210.09,492.08 213.55,493.93 217.02,491.94 220.48,493.76 223.94,491.1 227.4,491.8 230.86,494.28 234.32,493.48 237.78,494.23 241.25,492.78 244.71,493.6 248.17,493.66 251.63,493.26 255.09,493.96 258.55,493.72 262.01,494.11 265.47,493.26 268.94,494.56 272.4,493.08 275.86,494.09 279.32,492.27 282.78,491.69 286.24,494.84 289.7,494.12 293.17,495.18 296.63,491.37 300.09,495.04 303.55,493.37 307.01,494.76 310.19,492.85 310.7,493.11"/>
<polyline points="51.1,489.52 54.42,490.77 57.88,490.72 61.34,486.76 64.81,492.39 68.27,491.89 71.73,494.76 75.19,493.28 78.65,493.13 82.11,489.21 85.57,491.45 89.04,493.63 92.5,487.73 95.96,361.19 99.42,360.11 102.88,349.15 106.34,345 109.8,356.01 113.27,367.01 116.73,384.2 120.19,396 123.65,409.06 127.11,420.05 130.57,432.44 134.03,436.06 137.5,449.63 140.96,456.71 144.42,463.43 147.88,466.93 151.34,467.05 154.8,473.37 158.26,474.95 161.73,484.64 165.19,492.68 168.65,484.07 172.11,488.9 175.57,486.31 179.03,484.74 182.49,488.17 185.96,494.24 189.42,491.47 192.88,494.77 196.34,488.39 199.8,487.7 203.26,492.54 206.72,493.54 210.19,492.72 213.65,489.33 217.11,488.95 220.57,489.51 224.03,493.04 227.49,489.53 230.95,488.38 234.41,492.89 237.88,489.94 241.34,492.6 244.8,491.41 248.26,488.91 251.72,493.57 255.18,491.64 258.64,493.15 262.11,494.72 265.57,490.97 269.03,490.94 272.49,491.54 275.95,492.69 279.41,491.99 282.87,494.16 286.34,488.26 289.8,494.41 293.26,494.24 296.72,495.37 300.18,493.07 303.64,492.03 307.1,493.15 310.19,489.55 310.7,490.36"/>
<polyline points="51.1,494.18 54.07,494.89 57.53,494.06 60.99,493.19 64.45,495.16 67.92,494.34 71.38,494.59 74.84,494.78 78.3,493.39 81.76,494.85 85.22,493.55 88.68,495.14 92.15,495.03 95.61,494.17 99.07,491.76 102.53,485.81 105.99,472.25 109.45,465.19 112.91,461.06 116.38,455.55 119.84,453.74 123.3,452.72 126.76,452.82 130.22,450.12 133.68,453.65 137.14,454.3 140.61,455.01 144.07,454.06 147.53,457.02 150.99,460.13 154.45,462.57 157.91,461.52 161.37,464.63 164.84,467.99 168.3,469 171.76,470.15 175.22,475.64 178.68,475.81 182.14,477.33 185.6,478.14 189.06,481.11 192.53,481.16 195.99,483.71 199.45,483.73 202.91,487.09 206.37,484.27 209.83,488.38 213.29,490.01 216.76,491.26 220.22,489.84 223.68,490.33 227.14,491.42 230.6,493.65 234.06,492.33 237.52,490.96 240.99,494.79 244.45,493.69 247.91,493.62 251.37,492.12 254.83,492.44 258.29,492.93 261.75,493.06 265.22,494.59 268.68,494.61 272.14,493.12 275.6,493.28 279.06,495.08 282.52,494.5 285.98,493.6 289.45,494.77 292.91,494.11 296.37,493.88 299.83,494.72 303.29,494.4 306.75,493.44 310.19,494.63 310.7,494.75"/>
<polyline points="51.1,494.5 53.87,494.07 57.33,494.24 60.79,494.38 64.25,494.74 67.72,494.3 71.18,495.03 74.64,494.16 78.1,493.86 81.56,494.83 85.02,494.51 88.48,493.42 91.95,495.11 95.41,493.69 98.87,491.9 102.33,480.29 105.79,471.41 109.25,464.44 112.71,459.65 116.18,456.72 119.64,453.8 123.1,454.01 126.56,453.43 130.02,455.26 133.48,453.89 136.94,456.1 140.4,456.14 143.87,458.56 147.33,459.7 150.79,460.06 154.25,464.19 157.71,465.23 161.17,468.22 164.63,468.71 168.1,470.37 171.56,473.16 175.02,474.72 178.48,473.8 181.94,477.6 185.4,478.14 188.86,479.5 192.33,480.68 195.79,482.98 199.25,485.01 202.71,483.92 206.17,484.67 209.63,487.72 213.09,486.57 216.56,488.77 220.02,487.64 223.48,488.68 226.94,491.61 230.4,490.06 233.86,491.58 237.32,493 240.79,492.06 244.25,493.25 247.71,494.13 251.17,491.85 254.63,493.13 258.09,494.01 261.55,493.41 265.02,494.82 268.48,493.99 271.94,494.75 275.4,494.91 278.86,493.81 282.32,494.07 285.78,493.22 289.25,494.59 292.71,494.09 296.17,494.63 299.63,493.63 303.09,493.9 306.55,494.21 310.01,495.08 310.7,493.61"/>
<polyline points="51.1,494.64 53.32,493.8 56.79,494.93 60.25,493.63 63.71,494.88 67.17,494.69 70.63,493.94 74.09,493.71 77.55,493.8 81.02,493.3 84.48,494.73 87.94,493.7 91.4,494.31 94.86,493.91 98.32,494.43 101.78,489.02 105.24,477.27 108.71,466.93 112.17,458.32 115.63,456.74 119.09,456.02 122.55,453.61 126.01,453.39 129.47,452.42 132.94,453.39 136.4,454.3 139.86,452.7 143.32,455.75 146.78,458.83 150.24,457.98 153.7,459.37 157.17,460.83 160.63,462.34 164.09,464.85 167.55,466.94 171.01,467.18 174.47,472.51 177.93,471.08 181.4,472.55 184.86,475.31 188.32,476.62 191.78,479.07 195.24,478.15 198.7,481.32 202.16,483.05 205.63,483.66 209.09,486.16 212.55,484.32 216.01,485.21 219.47,487.61 222.93,489.25 226.39,488.68 229.86,490.09 233.32,488.26 236.78,490.77 240.24,490.65 243.7,492.75 247.16,491.84 250.62,492.12 254.09,492.87 257.55,491.68 261.01,493.47 264.47,494.73 267.93,494.71 271.39,493.79 274.85,494.25 278.31,493.65 281.78,494.52 285.24,494.19 288.7,494.66 292.16,494.13 295.62,493.88 299.08,495.26 302.54,493.96 306.01,493.97 309.47,495.03 310.7,493.78"/>
<polyline points="51.1,493.7 53.42,494.88 56.88,495.02 60.34,493.29 63.8,493.78 67.26,495.02 70.72,493.67 74.19,493.62 77.65,494.07 81.11,494.14 84.57,493.63 88.03,492.59 91.49,494.85 94.95,493.42 98.42,488.04 101.88,476.62 105.34,466.55 108.8,459.82 112.26,457.42 115.72,454.63 119.18,454.24 122.65,457.08 126.11,455.62 129.57,453.25 133.03,456.69 136.49,458.29 139.95,458.05 143.41,460.07 146.88,462.5 150.34,461.38 153.8,466.97 157.26,467.8 160.72,468.56 164.18,471.02 167.64,473.11 171.1,474.22 174.57,477.09 178.03,477.26 181.49,480.14 184.95,481.04 188.41,481.6 191.87,484.42 195.33,483.74 198.8,485.79 202.26,485.87 205.72,488.69 209.18,489.36 212.64,491.37 216.1,490.61 219.56,490.9 223.03,491.94 226.49,491.46 229.95,491 233.41,491.76 236.87,493.02 240.33,494.18 243.79,494.59 247.26,491.78 250.72,492.58 254.18,493.55 257.64,493.07 261.1,494.53 264.56,494.79 268.02,494.67 271.49,494.24 274.95,494.07 278.41,494.93 281.87,494.03 285.33,494.87 288.79,494.45 292.25,494.86 295.72,493.13 299.18,493.27 302.64,494.4 306.1,494.12 309.56,493.54 310.7,493.96"/>
<polyline points="51.1,494.6 54.45,493.13 57.92,494.65 61.38,494.51 64.84,493.53 68.3,494.03 71.76,493.26 75.22,493.9 78.68,493.34 82.14,493.9 85.61,493.65 89.07,493.71 92.53,494.61 95.99,494.01 99.45,493.92 102.91,484.67 106.37,475.5 109.84,468.44 113.3,464.97 116.76,457.44 120.22,456.96 123.68,455.63 127.14,454.35 130.6,454.85 134.07,455.82 137.53,455.55 140.99,455.82 144.45,459.13 147.91,460.3 151.37,462.94 154.83,463.39 158.3,465.77 161.76,466.67 165.22,467.87 168.68,469.05 172.14,472.46 175.6,474.36 179.06,474.42 182.53,477.18 185.99,478.42 189.45,481 192.91,481.03 196.37,483.12 199.83,484.81 203.29,486.34 206.76,484.06 210.22,486.26 213.68,486.62 217.14,490.39 220.6,489.15 224.06,488.79 227.52,491.87 230.99,493.06 234.45,491.64 237.91,491.58 241.37,493.18 244.83,491.54 248.29,491.52 251.75,494.23 255.21,494.55 258.68,494.12 262.14,494.9 265.6,495.17 269.06,493.98 272.52,493.11 275.98,493.47 279.44,494.45 282.91,493.68 286.37,492.67 289.83,493.51 293.29,494.8 296.75,494.52 300.21,494.82 303.67,494.18 307.14,493.83 310.19,494.26 310.7,493.22"/>
<polyline points="51.1,494.92 53.31,495.38 56.77,494.95 60.23,493.96 63.69,494.52 67.15,494.25 70.61,494.77 74.07,494.17 77.54,494.99 81,494.37 84.46,495.13 87.92,493.92 91.38,492.53 94.84,493.47 98.3,494.15 101.77,488.78 105.23,479.29 108.69,467.98 112.15,463.42 115.61,461.77 119.07,458.47 122.53,457.96 126,457.46 129.46,457.07 132.92,454.77 136.38,457.07 139.84,458.49 143.3,461.12 146.76,459.99 150.23,460.89 153.69,463.63 157.15,465.44 160.61,468.25 164.07,469.86 167.53,472.49 170.99,473.83 174.45,473.46 177.92,475.97 181.38,476.96 184.84,479.36 188.3,482.48 191.76,483.11 195.22,482.8 198.68,484.24 202.15,485.32 205.61,488.34 209.07,485.3 212.53,490.22 215.99,489.11 219.45,491.5 222.91,492.28 226.38,490.03 229.84,491.53 233.3,491.09 236.76,492.55 240.22,493.43 243.68,490.47 247.14,493.2 250.61,494.07 254.07,494.87 257.53,494.96 260.99,495.02 264.45,493.29 267.91,493.32 271.37,493.56 274.84,492.98 278.3,494.26 281.76,492.95 285.22,493.73 288.68,492.92 292.14,494.66 295.6,494.06 299.07,494.55 302.53,493.16 305.99,494.67 309.45,493.36 310.7,493.43"/>
<polyline points="51.1,492.41 53.46,494.05 56.92,494.76 60.38,493.91 63.84,494.32 67.3,494.35 70.76,494.9 74.22,494.24 77.69,494.67 81.15,492.66 84.61,494.88 88.07,493.55 91.53,494.92 94.99,495.24 98.45,494.44 101.92,489.15 105.38,476.5 108.84,468.48 112.3,461.89 115.76,458.92 119.22,458.4 122.68,458.37 126.15,458.07 129.61,457.68 133.07,458.88 136.53,458.78 139.99,461.16 143.45,461.14 146.91,463.74 150.38,464.57 153.84,467.71 157.3,468.58 160.76,471.93 164.22,472.55 167.68,475 171.14,475.64 174.61,475.87 178.07,478.8 181.53,480.84 184.99,481.3 188.45,484.35 191.91,481.78 195.37,485.73 198.83,486.04 202.3,489.33 205.76,488.57 209.22,489.54 212.68,489.47 216.14,489.9 219.6,492.55 223.06,492.03 226.53,492.99 229.99,491.88 233.45,491.13 236.91,493.22 240.37,494.12 243.83,492.93 247.29,494.23 250.76,493.64 254.22,494.09 257.68,493.69 261.14,494.12 264.6,493.53 268.06,494.22 271.52,493.05 274.99,495 278.45,493.92 281.91,493.93 285.37,493.56 288.83,494.4 292.29,493.91 295.75,494.41 299.22,493.14 302.68,494.54 306.14,494.28 309.6,493.42 310.7,494.53"/>
<polyline points="51.1,494.69 53.63,494.99 57.09,495.09 60.56,494.6 64.02,494.48 67.48,494.81 70.94,494.01 74.4,494.07 77.86,494.02 81.32,493.9 84.78,494.06 88.25,494.96 91.71,493.96 95.17,494.53 98.63,490.14 102.09,476.86 105.55,468.88 109.01,464.1 112.48,460.65 115.94,457.41 119.4,460.27 122.86,457.29 126.32,458.39 129.78,457.78 133.24,460.15 136.71,457.88 140.17,458.6 143.63,456.6 147.09,460.68 150.55,462.05 154.01,463.43 157.47,465.69 160.94,465.53 164.4,469.33 167.86,468.93 171.32,471.53 174.78,472.92 178.24,475.01 181.7,476.64 185.17,474.96 188.63,477.31 192.09,478.37 195.55,481.69 199.01,482.19 202.47,483.75 205.93,485.16 209.4,484.7 212.86,486.13 216.32,488.24 219.78,488.41 223.24,489.86 226.7,490.68 230.16,489.83 233.63,489.91 237.09,491.27 240.55,491.41 244.01,491.74 247.47,490.24 250.93,493.09 254.39,492.9 257.85,493.16 261.32,493.36 264.78,492.5 268.24,494.4 271.7,492.92 275.16,494.77 278.62,493.41 282.08,492.42 285.55,494.55 289.01,494.37 292.47,492.3 295.93,493.86 299.39,492.64 302.85,494.41 306.31,493.57 309.78,493.72 310.7,494.22"/>
<polyline points="51.1,492.43 54.18,492.69 57.64,493.82 61.1,493.82 64.57,493.73 68.03,494.73 71.49,493.95 74.95,493.27 78.41,494.8 81.87,493.92 85.33,494.07 88.8,493.63 92.26,493.4 95.72,494.34 99.18,492.68 102.64,489.73 106.1,478.49 109.56,469.51 113.03,466.43 116.49,463.85 119.95,458.84 123.41,459.31 126.87,458.2 130.33,459.11 133.79,460.27 137.26,459.28 140.72,459.92 144.18,462.91 147.64,463.77 151.1,464.66 154.56,466.28 158.02,468.54 161.49,470.42 164.95,472.37 168.41,474.12 171.87,474.27 175.33,476.52 178.79,477.37 182.25,476.25 185.71,479.83 189.18,481.47 192.64,482.06 196.1,484.22 199.56,486.07 203.02,483.69 206.48,487.99 209.94,488.94 213.41,487.18 216.87,490.21 220.33,488.44 223.79,489.72 227.25,491.79 230.71,490.37 234.17,491.77 237.64,492.5 241.1,493.18 244.56,495.08 248.02,494.77 251.48,492.85 254.94,493.54 258.4,493.06 261.87,494.53 265.33,494.38 268.79,492.88 272.25,493.42 275.71,493.47 279.17,492.81 282.63,494.03 286.1,493.65 289.56,493.21 293.02,494.9 296.48,494.98 299.94,494.03 303.4,493.75 306.86,493.12 310.19,493.13 310.7,493.69"/>
<polyline points="51.1,494.37 54.34,494.64 57.8,493.69 61.26,493.85 64.72,494.98 68.18,494.45 71.64,493.39 75.1,493.13 78.57,493.96 82.03,494.56 85.49,493.73 88.95,493.8 92.41,493.91 95.87,494.34 99.33,491.82 102.8,487.28 106.26,476.84 109.72,472.82 113.18,466.34 116.64,463.83 120.1,461.97 123.56,460.74 127.02,461.14 130.49,461.86 133.95,460.38 137.41,462.63 140.87,463.4 144.33,463.88 147.79,465.13 151.25,467.29 154.72,468.81 158.18,471.26 161.64,473.97 165.1,470.82 168.56,475.47 172.02,476.7 175.48,479.25 178.95,479.81 182.41,480.37 185.87,481.27 189.33,483.02 192.79,485.02 196.25,483.55 199.71,486.33 203.18,487.22 206.64,489.08 210.1,490.18 213.56,489.17 217.02,490.4 220.48,491.56 223.94,491.89 227.41,492.08 230.87,492.38 234.33,492.94 237.79,492.37 241.25,493.17 244.71,493.64 248.17,493.55 251.64,494.1 255.1,494.3 258.56,494.28 262.02,493.91 265.48,493.76 268.94,494.09 272.4,493.98 275.87,495.27 279.33,493.45 282.79,494.71 286.25,493.64 289.71,495.09 293.17,494.95 296.63,495.09 300.09,494.77 303.56,494.71 307.02,492.77 310.19,495.01 310.7,494.52"/>
<polyline points="51.1,494.45 54.22,494.29 57.68,494.75 61.14,493.54 64.6,494.54 68.06,493.91 71.53,492.54 74.99,492.84 78.45,493.42 81.91,493.57 85.37,494.75 88.83,494.33 92.29,492.21 95.76,494.89 99.22,494.03 102.68,487.07 106.14,477.78 109.6,470.94 113.06,466.31 116.52,466.43 119.99,462.13 123.45,462.75 126.91,462.65 130.37,462.93 133.83,461.08 137.29,462.27 140.75,462.19 144.22,462.8 147.68,466.69 151.14,465.84 154.6,465.47 158.06,470.79 161.52,470.29 164.98,471.95 168.44,472.97 171.91,475.72 175.37,474.93 178.83,477.74 182.29,479.17 185.75,480.61 189.21,480.83 192.67,483.31 196.14,484.2 199.6,485.44 203.06,488.94 206.52,488.41 209.98,488.94 213.44,489.4 216.9,488.92 220.37,489.94 223.83,491.31 227.29,489.91 230.75,491.99 234.21,492.44 237.67,491.3 241.13,493 244.6,495.05 248.06,493.25 251.52,493.08 254.98,493.78 258.44,493.79 261.9,494.05 265.36,493.26 268.83,495.11 272.29,493.92 275.75,493.25 279.21,493.18 282.67,493.97 286.13,494.56 289.59,493.86 293.06,494.8 296.52,494.81 299.98,493.17 303.44,493.93 306.9,493.81 310.19,494.97 310.7,495.16"/>
<polyline points="51.1,493.56 54.38,493.71 57.85,494.32 61.31,494.84 64.77,493.23 68.23,494.44 71.69,493.34 75.15,493.22 78.61,494.28 82.08,493.8 85.54,493.67 89,493.28 92.46,494.5 95.92,494.46 99.38,491.64 102.84,484.07 106.31,478.79 109.77,474.47 113.23,468.5 116.69,467.97 120.15,465.12 123.61,465.38 127.07,466.38 130.54,464.45 134,466.99 137.46,464.84 140.92,470.04 144.38,467.16 147.84,469.06 151.3,472.12 154.77,470.77 158.23,473.99 161.69,473 165.15,474.97 168.61,477.73 172.07,476.92 175.53,479.82 179,483.3 182.46,483.81 185.92,483.94 189.38,486.32 192.84,484.84 196.3,486.73 199.76,486.69 203.22,488.71 206.69,490.21 210.15,489.09 213.61,492.15 217.07,491.82 220.53,492.08 223.99,492.9 227.45,493.09 230.92,492.72 234.38,493.19 237.84,493.69 241.3,493.2 244.76,491.86 248.22,494.49 251.68,492.03 255.15,494.46 258.61,493.14 262.07,494.25 265.53,494.8 268.99,494.57 272.45,493.95 275.91,493.35 279.38,494.94 282.84,493.61 286.3,493.94 289.76,494.32 293.22,495.19 296.68,493.41 300.14,493.8 303.61,493.29 307.07,494.69 310.19,494.8 310.7,493.22"/>
<polyline points="51.1,494.48 53.31,494.54 56.77,494.09 60.23,493.72 63.69,494.72 67.16,494.37 70.62,493.95 74.08,494.4 77.54,492.78 81,493.03 84.46,494.59 87.92,494.07 91.39,493.87 94.85,494.83 98.31,493.97 101.77,489.08 105.23,481.39 108.69,475.11 112.15,471.99 115.62,468.45 119.08,465.38 122.54,467.87 126,468.56 129.46,466.93 132.92,465.63 136.38,467.87 139.85,469.55 143.31,469.28 146.77,469.85 150.23,472.53 153.69,471.55 157.15,475.44 160.61,474.55 164.08,475.98 167.54,478.06 171,478.8 174.46,479.68 177.92,481.81 181.38,483.17 184.84,482.7 188.31,484.89 191.77,486.36 195.23,485.15 198.69,487.7 202.15,487.48 205.61,488.53 209.07,489.75 212.54,489.36 216,491.28 219.46,493 222.92,490.63 226.38,491.92 229.84,491.09 233.3,494.5 236.76,494.29 240.23,491.95 243.69,494.83 247.15,492.29 250.61,491.85 254.07,493.44 257.53,494.72 260.99,494.47 264.46,493.44 267.92,494.92 271.38,494.49 274.84,494.27 278.3,494.53 281.76,494.4 285.22,494.43 288.69,494.54 292.15,494.66 295.61,494.2 299.07,494.69 302.53,493.39 305.99,494.18 309.45,493.36 310.7,493.55"/>
<polyline points="51.1,494.58 54.82,494.4 58.28,493.89 61.74,493.46 65.2,494.3 68.66,495.05 72.13,494.42 75.59,494.48 79.05,492.72 82.51,492.93 85.97,494.09 89.43,495.13 92.89,494.51 96.36,494.5 99.82,492.72 103.28,486.02 106.74,478.6 110.2,472.04 113.66,468.89 117.12,469.87 120.59,468.85 124.05,469.66 127.51,467.33 130.97,469.69 134.43,469.55 137.89,469.66 141.35,470.55 144.82,471.48 148.28,472.7 151.74,471.82 155.2,473.29 158.66,472.9 162.12,477.01 165.58,476.95 169.04,479.22 172.51,479.57 175.97,481.26 179.43,481.52 182.89,483.2 186.35,484.99 189.81,484.11 193.27,485.72 196.74,484.65 200.2,488.9 203.66,487.4 207.12,488.55 210.58,490.56 214.04,489.86 217.5,490.08 220.97,490.6 224.43,491.47 227.89,491.27 231.35,492.31 234.81,493.32 238.27,493.13 241.73,493.06 245.2,493.59 248.66,493.22 252.12,492.45 255.58,493.45 259.04,494.04 262.5,493.73 265.96,494.72 269.43,494.08 272.89,493.73 276.35,494.11 279.81,493.65 283.27,493.36 286.73,494.5 290.19,493.29 293.66,494.65 297.12,493.75 300.58,493.88 304.04,494.21 307.5,494.84 310.19,492.97 310.7,493.95"/>
<polyline points="51.1,494.71 54,493.87 57.46,494.48 60.92,494.68 64.38,494.36 67.85,494.22 71.31,495.14 74.77,494.32 78.23,494.67 81.69,495.37 85.15,495.09 88.61,494.8 92.08,494.03 95.54,492.67 99,483.22 102.46,470.53 105.92,460.46 109.38,452 112.84,447.41 116.31,445.43 119.77,444.83 123.23,444.58 126.69,445.53 130.15,445.67 133.61,445.78 137.07,446.57 140.54,448.24 144,449.39 147.46,450.77 150.92,452.79 154.38,453.43 157.84,456.51 161.3,457.45 164.76,460.12 168.23,460.8 171.69,462.75 175.15,464.22 178.61,466.67 182.07,467.96 185.53,469.37 188.99,471.4 192.46,472.99 195.92,474.42 199.38,476.13 202.84,476.96 206.3,477.48 209.76,479.93 213.22,480.07 216.69,481.25 220.15,482.21 223.61,483.37 227.07,484.05 230.53,485.63 233.99,485.93 237.45,487.96 240.92,488.8 244.38,487.75 247.84,490.14 251.3,490.83 254.76,489.83 258.22,491.06 261.68,491.06 265.15,491.14 268.61,491.62 272.07,491.59 275.53,491.78 278.99,492.49 282.45,493.16 285.91,493.34 289.38,493.39 292.84,495.26 296.3,493.04 299.76,494.95 303.22,493.73 306.68,493.87 310.14,494.12 310.7,494.5"/>
</g>
<line x1="51.1" y1="315.3" x2="51.1" y2="496.5" stroke="#000" stroke-width="2.3" stroke-linecap="butt"/>
<line x1="50" y1="495.4" x2="311.81" y2="495.4" stroke="#000" stroke-width="2.2" stroke-linecap="butt"/>
<line x1="44.8" y1="495.4" x2="51.1" y2="495.4" stroke="#000" stroke-width="2.4" stroke-linecap="butt"/>
<text transform="translate(45.9,502.9) scale(1.03,1)" font-size="18.2" text-anchor="end" font-weight="normal" fill="#000">0.0</text>
<line x1="44.8" y1="420.2" x2="51.1" y2="420.2" stroke="#000" stroke-width="2.4" stroke-linecap="butt"/>
<text transform="translate(45.9,427.7) scale(1.03,1)" font-size="18.2" text-anchor="end" font-weight="normal" fill="#000">0.5</text>
<line x1="44.8" y1="345" x2="51.1" y2="345" stroke="#000" stroke-width="2.4" stroke-linecap="butt"/>
<text transform="translate(45.9,352.5) scale(1.03,1)" font-size="18.2" text-anchor="end" font-weight="normal" fill="#000">1.0</text>
<line x1="51.1" y1="495.4" x2="51.1" y2="501.9" stroke="#000" stroke-width="2.2" stroke-linecap="butt"/>
<text transform="translate(51.7,520.4) scale(1.03,1)" font-size="18.2" text-anchor="middle" font-weight="normal" fill="#000">0</text>
<line x1="137.63" y1="495.4" x2="137.63" y2="501.9" stroke="#000" stroke-width="2.2" stroke-linecap="butt"/>
<text transform="translate(138.23,520.4) scale(1.03,1)" font-size="18.2" text-anchor="middle" font-weight="normal" fill="#000">50</text>
<line x1="224.17" y1="495.4" x2="224.17" y2="501.9" stroke="#000" stroke-width="2.2" stroke-linecap="butt"/>
<text transform="translate(226.57,520.4) scale(1.03,1)" font-size="18.2" text-anchor="middle" font-weight="normal" fill="#000">100</text>
<line x1="310.7" y1="495.4" x2="310.7" y2="501.9" stroke="#000" stroke-width="2.2" stroke-linecap="butt"/>
<text transform="translate(313.11,520.4) scale(1.03,1)" font-size="18.2" text-anchor="middle" font-weight="normal" fill="#000">150</text>
<text transform="translate(182,547.5) scale(1.03,1)" font-size="18" text-anchor="middle" font-weight="normal" fill="#000">time [s]</text>
<text transform="translate(15.6,399.4) rotate(-90)" font-size="18.5" text-anchor="middle" font-weight="normal" fill="#000">normalized signal</text>
<text transform="translate(74.2,331)" font-size="12.2" text-anchor="start" font-weight="normal" fill="#000">Pyruvate</text>
<text transform="translate(150.9,413.8)" font-size="12.2" text-anchor="start" font-weight="normal" fill="#000">Lactate</text>
<text transform="translate(1.8,297.5)" font-size="18" text-anchor="start" font-weight="bold" fill="#000">c</text>
<g fill="none" stroke="#000" stroke-width="1.25" stroke-linejoin="round">
<polyline points="408,494.1 411.93,492.12 415.39,493.89 418.85,493.79 422.31,490.15 425.78,493.63 429.24,493.55 432.7,493.53 436.16,492.89 439.62,493.35 443.08,495.41 446.54,488.08 450.01,437.25 453.47,345.2 456.93,362.43 460.39,384.97 463.85,400.4 467.31,416.16 470.77,425.63 474.24,440.46 477.7,449.99 481.16,455.11 484.62,459.64 488.08,467.98 491.54,470.55 495,472.96 498.47,482.34 501.93,479.17 505.39,481.92 508.85,487.1 512.31,487.84 515.77,490 519.23,488.15 522.69,492.26 526.16,489.65 529.62,488.33 533.08,494.4 536.54,492.12 540,493.52 543.46,492.13 546.92,492.83 550.39,492.71 553.85,492.09 557.31,493.49 560.77,494.5 564.23,493.73 567.69,492.65 571.15,489.64 574.62,491.84 578.08,492.36 581.54,494.19 585,491.17 588.46,495.05 591.92,494.2 595.38,492.3 598.85,492.45 602.31,492.07 605.77,490.53 609.23,494.81 612.69,494.6 616.15,493.15 619.61,490.31 623.08,493.45 626.54,495.48 630,494.34 633.46,492.48 636.92,494.01 640.38,490.88 643.84,493.26 647.31,492.45 650.77,492.71 654.23,493.71 657.69,492.65 661.15,492.13 664.61,494.12 667.61,494.03"/>
<polyline points="408,493.47 411.41,491.21 414.87,482.78 418.33,491.04 421.79,485.84 425.25,490 428.71,484.54 432.17,493.76 435.64,488.34 439.1,489.09 442.56,488.27 446.02,491.26 449.48,484.62 452.94,452.29 456.4,345.2 459.87,368.57 463.33,382.77 466.79,399.33 470.25,411.19 473.71,427.26 477.17,431.76 480.63,450 484.1,457.2 487.56,457.27 491.02,466.8 494.48,471.91 497.94,474.23 501.4,479.29 504.86,476.19 508.32,476 511.79,476.4 515.25,484.39 518.71,487.69 522.17,484.85 525.63,491.6 529.09,492.82 532.55,486.79 536.02,481.79 539.48,488.88 542.94,483.06 546.4,476.31 549.86,491.72 553.32,485.48 556.78,489.49 560.25,492.06 563.71,492.89 567.17,492.07 570.63,486.69 574.09,484.33 577.55,491.27 581.01,488.42 584.48,485.32 587.94,492.3 591.4,484 594.86,482.68 598.32,490.2 601.78,488.98 605.24,483.38 608.71,484.45 612.17,486.51 615.63,486.97 619.09,486.39 622.55,491.21 626.01,492.38 629.47,490.86 632.94,488.7 636.4,490.25 639.86,494.26 643.32,492.13 646.78,490.35 650.24,491.08 653.7,490.36 657.17,480.97 660.63,492.47 664.09,490.69 667.61,483.14"/>
<polyline points="408,490.16 411.34,481.92 414.8,487.15 418.26,489.34 421.73,486.86 425.19,492.13 428.65,491 432.11,489.05 435.57,490.82 439.03,476.25 442.49,472.4 445.96,488.66 449.42,484.81 452.88,492.08 456.34,456.06 459.8,345.2 463.26,369.41 466.72,379.35 470.18,399.41 473.65,411.04 477.11,425.29 480.57,422.12 484.03,455.66 487.49,441.63 490.95,448.04 494.41,458.4 497.88,464.88 501.34,468.12 504.8,478.35 508.26,483.77 511.72,474.8 515.18,477.54 518.64,475.57 522.11,480.78 525.57,479.9 529.03,483.58 532.49,475.07 535.95,486.69 539.41,482.78 542.87,478.14 546.34,489.37 549.8,487.25 553.26,486.2 556.72,491.74 560.18,489.03 563.64,491.86 567.1,488.88 570.57,490.66 574.03,486.03 577.49,491.99 580.95,482.11 584.41,488.87 587.87,490.55 591.33,484.63 594.8,488.93 598.26,489.81 601.72,478.46 605.18,491.97 608.64,482.16 612.1,493.83 615.56,488.58 619.03,484.49 622.49,483.55 625.95,481.61 629.41,489.4 632.87,474.72 636.33,482.31 639.79,483.31 643.25,486.25 646.72,489.31 650.18,484.16 653.64,489.7 657.1,485.94 660.56,488.63 664.02,486.32 667.61,489.27"/>
<polyline points="408,493.19 411.62,494.83 415.08,493.24 418.54,494.62 422,493.85 425.46,494.1 428.92,493.59 432.38,494.76 435.84,494.32 439.31,492.58 442.77,493.4 446.23,494.36 449.69,487.3 453.15,392.84 456.61,345.2 460.07,367.65 463.54,386.56 467,404.9 470.46,418.09 473.92,431.27 477.38,439.76 480.84,450.36 484.3,459.09 487.77,462.99 491.23,469.48 494.69,474.69 498.15,476.94 501.61,481.34 505.07,484.81 508.53,486.21 512,485.43 515.46,486.51 518.92,490.16 522.38,488.97 525.84,493.33 529.3,491.23 532.76,492.99 536.23,492.64 539.69,494.01 543.15,494.04 546.61,494.57 550.07,492.95 553.53,495.03 556.99,493.8 560.46,493.04 563.92,492.83 567.38,493.48 570.84,493.61 574.3,494.96 577.76,492.21 581.22,494.46 584.69,492.7 588.15,494.64 591.61,494.72 595.07,492.18 598.53,494.96 601.99,495.08 605.45,493.99 608.91,495.03 612.38,495.38 615.84,493.04 619.3,494.38 622.76,494.24 626.22,493.85 629.68,492.99 633.14,493.88 636.61,494.21 640.07,494.11 643.53,493.53 646.99,495.25 650.45,494.19 653.91,495.04 657.37,494.69 660.84,493.55 664.3,493.9 667.61,494.46"/>
<polyline points="408,491.03 411.94,491.06 415.4,490.52 418.86,489.52 422.32,488.58 425.78,484.46 429.24,486.82 432.71,491.1 436.17,491.25 439.63,490.27 443.09,487.42 446.55,488.43 450.01,392.99 453.47,345.2 456.94,369.56 460.4,396.17 463.86,407.75 467.32,423.68 470.78,432.62 474.24,445.87 477.7,456.04 481.17,460.81 484.63,470.37 488.09,474.58 491.55,481.62 495.01,483.85 498.47,484.66 501.93,482.99 505.39,483.61 508.86,484.86 512.32,491.63 515.78,492.11 519.24,490.54 522.7,492.02 526.16,488.46 529.62,491.37 533.09,487.98 536.55,494.52 540.01,493.57 543.47,491.16 546.93,491.14 550.39,493.37 553.85,492.87 557.32,494.38 560.78,493.17 564.24,494.72 567.7,489.07 571.16,491.64 574.62,494.11 578.08,492.89 581.55,491.25 585.01,494.29 588.47,494.59 591.93,491.91 595.39,494.1 598.85,492.83 602.31,492.58 605.78,494.31 609.24,490 612.7,494.15 616.16,491.88 619.62,492.43 623.08,488.97 626.54,491.47 630.01,492.03 633.47,493.05 636.93,493.96 640.39,489.71 643.85,490.75 647.31,486.67 650.77,490.93 654.24,491.78 657.7,490.12 661.16,491.7 664.62,494.85 667.61,490.81"/>
<polyline points="408,490.81 411.76,490.41 415.23,491.13 418.69,489.15 422.15,491.71 425.61,491.41 429.07,492.04 432.53,493.1 435.99,493.6 439.46,490.1 442.92,488.37 446.38,493.88 449.84,493.88 453.3,474.62 456.76,379.08 460.22,345.2 463.69,364.24 467.15,389.98 470.61,398.9 474.07,412.89 477.53,428.49 480.99,450.74 484.45,449.11 487.92,455.58 491.38,463.01 494.84,460.9 498.3,475.82 501.76,478.87 505.22,475.54 508.68,482.76 512.14,481.63 515.61,486.63 519.07,490.09 522.53,491.94 525.99,491.1 529.45,491.51 532.91,489.47 536.37,491.32 539.84,492.06 543.3,489.9 546.76,490.96 550.22,493.16 553.68,485.5 557.14,491.34 560.6,492.35 564.07,490.68 567.53,492.57 570.99,494.31 574.45,493.13 577.91,492.94 581.37,492.55 584.83,491.95 588.3,492.66 591.76,489.24 595.22,494.4 598.68,493.06 602.14,490.5 605.6,489.39 609.06,489.03 612.53,491.93 615.99,493.26 619.45,487.81 622.91,495.17 626.37,494.52 629.83,494.76 633.29,493.4 636.76,491.3 640.22,493.38 643.68,491.91 647.14,492.08 650.6,493.92 654.06,494.2 657.52,492.3 660.99,490.09 664.45,493.03 667.61,492.69"/>
<polyline points="408,486.84 412.11,490.03 415.58,486.86 419.04,485.57 422.5,479.36 425.96,480.71 429.42,489.39 432.88,485.53 436.34,484.66 439.81,483.77 443.27,487.08 446.73,491.51 450.19,486.52 453.65,382.5 457.11,345.2 460.57,371.5 464.03,376.64 467.5,391.54 470.96,426.71 474.42,413.45 477.88,436.73 481.34,440.73 484.8,445.89 488.26,458.95 491.73,461.41 495.19,461.79 498.65,474.69 502.11,472.53 505.57,470.81 509.03,480.38 512.49,482.78 515.96,487.17 519.42,486.96 522.88,489.73 526.34,487.54 529.8,490.33 533.26,482.45 536.72,483.32 540.19,476.81 543.65,484.03 547.11,488.32 550.57,489.25 554.03,493.04 557.49,490.02 560.95,488.36 564.42,485.4 567.88,487.31 571.34,484.31 574.8,481.25 578.26,493.48 581.72,488.37 585.18,489.67 588.65,488.97 592.11,491.14 595.57,475.89 599.03,470.96 602.49,489.52 605.95,482.42 609.41,478.73 612.88,486.84 616.34,483.38 619.8,484.69 623.26,490.52 626.72,488.82 630.18,484.49 633.64,491.78 637.1,487.38 640.57,489.92 644.03,494.06 647.49,481.13 650.95,487.67 654.41,492.09 657.87,487.49 661.33,483.5 664.8,491.47 667.61,481.15"/>
<polyline points="408,494.73 411.65,494.61 415.11,492.53 418.57,492.29 422.04,491.14 425.5,493.91 428.96,493.94 432.42,493.98 435.88,492.07 439.34,493.67 442.8,492.41 446.27,492.53 449.73,494.17 453.19,487.52 456.65,430.37 460.11,345.2 463.57,369.84 467.03,389.11 470.5,405.45 473.96,421.37 477.42,432.68 480.88,443.65 484.34,453.13 487.8,458.37 491.26,461.97 494.73,466.76 498.19,470.65 501.65,474.79 505.11,486.06 508.57,479.56 512.03,484.45 515.49,490.35 518.96,489.96 522.42,490.91 525.88,491.91 529.34,489.45 532.8,492.11 536.26,488.05 539.72,489.44 543.19,493.05 546.65,495.15 550.11,491.33 553.57,493.57 557.03,493.91 560.49,491.89 563.95,494.25 567.41,493.78 570.88,489.79 574.34,492.34 577.8,493.27 581.26,491.26 584.72,492.42 588.18,491.77 591.64,490.13 595.11,495.12 598.57,492.91 602.03,493.95 605.49,495.14 608.95,492.95 612.41,492.9 615.87,491.31 619.34,494.11 622.8,491.14 626.26,492.33 629.72,493.91 633.18,493.88 636.64,491.33 640.1,491.76 643.57,493.38 647.03,492.75 650.49,492.93 653.95,494.26 657.41,492.61 660.87,491.26 664.33,494.52 667.61,492.05"/>
<polyline points="408,493.96 411.76,491.65 415.22,485.46 418.68,486.65 422.15,493.77 425.61,489.59 429.07,483.96 432.53,490.01 435.99,486.06 439.45,492.27 442.91,490.85 446.38,485.93 449.84,487.26 453.3,412.19 456.76,345.2 460.22,368.14 463.68,380.65 467.14,409.98 470.61,425.74 474.07,430.98 477.53,450.19 480.99,459.38 484.45,462.1 487.91,471.31 491.37,471.23 494.83,471.26 498.3,483.02 501.76,481.43 505.22,480.24 508.68,487.37 512.14,486.94 515.6,483.19 519.06,483.67 522.53,487.17 525.99,478.37 529.45,486.25 532.91,487.62 536.37,489.26 539.83,494.79 543.29,487.35 546.76,485.3 550.22,491.22 553.68,480.53 557.14,487.14 560.6,482.64 564.06,487.87 567.52,492.67 570.99,489.02 574.45,486.14 577.91,487.61 581.37,488.6 584.83,486.96 588.29,489.53 591.75,489.09 595.22,493.47 598.68,493.39 602.14,491.35 605.6,489.09 609.06,479.02 612.52,488.39 615.98,483.23 619.45,488.68 622.91,492.75 626.37,479.28 629.83,493.08 633.29,490.41 636.75,482.28 640.21,487.9 643.68,486.57 647.14,489.38 650.6,487.42 654.06,483.2 657.52,488.42 660.98,493.31 664.44,486.22 667.61,488.41"/>
<polyline points="408,492.88 412.09,493.76 415.55,492.54 419.01,492.83 422.48,493.76 425.94,493.4 429.4,494.21 432.86,494.87 436.32,494.63 439.78,492.52 443.24,493.94 446.71,476.27 450.17,376.69 453.63,345.2 457.09,368.72 460.55,390.37 464.01,409.06 467.47,426.29 470.94,438.88 474.4,447.83 477.86,458.01 481.32,465.25 484.78,471.28 488.24,474.04 491.7,478.44 495.17,480.7 498.63,481.91 502.09,485.89 505.55,488.34 509.01,488.55 512.47,489.27 515.93,489.66 519.4,491.82 522.86,491.83 526.32,494.41 529.78,494.93 533.24,494.78 536.7,493.83 540.16,494.35 543.63,495.04 547.09,494.81 550.55,490.38 554.01,492.82 557.47,493.69 560.93,494.33 564.39,492.38 567.85,493.54 571.32,493.52 574.78,493.66 578.24,493.31 581.7,494.65 585.16,493.6 588.62,493.3 592.08,493.75 595.55,493.91 599.01,492.23 602.47,495.05 605.93,493.12 609.39,493.46 612.85,494.59 616.31,491.84 619.78,492.83 623.24,494.57 626.7,494.31 630.16,493.12 633.62,493.97 637.08,495 640.54,492.46 644.01,495.15 647.47,494.04 650.93,495.01 654.39,494.29 657.85,491.98 661.31,494.51 664.77,493.5 667.61,494.92"/>
<polyline points="408,475.95 411.16,492.12 414.62,491.89 418.08,482.06 421.54,482.78 425,485.11 428.47,483.9 431.93,483.58 435.39,484.43 438.85,483.5 442.31,481.52 445.77,488.32 449.23,478.83 452.7,408.92 456.16,345.2 459.62,363.8 463.08,394.13 466.54,414.65 470,418.39 473.46,435.37 476.93,446.62 480.39,455.13 483.85,446.05 487.31,478.87 490.77,476.7 494.23,483.92 497.69,483.9 501.16,481.37 504.62,485.28 508.08,486.81 511.54,488.11 515,490.69 518.46,489.02 521.92,482.23 525.39,488.98 528.85,491.84 532.31,492.61 535.77,480.02 539.23,488.73 542.69,481.4 546.15,476.07 549.62,487.74 553.08,490.7 556.54,489.26 560,485.98 563.46,486.85 566.92,486.53 570.38,489.59 573.84,488.67 577.31,482.28 580.77,475.78 584.23,488.53 587.69,491.48 591.15,493.65 594.61,488.1 598.07,481.31 601.54,483 605,485.25 608.46,483.78 611.92,485.05 615.38,480.28 618.84,489.12 622.3,483.63 625.77,485.93 629.23,491.88 632.69,487.92 636.15,491.92 639.61,472.86 643.07,481.76 646.53,491.27 650,490.49 653.46,492.24 656.92,488.03 660.38,488.99 663.84,492.69 667.61,491.46"/>
<polyline points="408,488.45 411.19,491.71 414.65,487.22 418.11,487.94 421.57,485.57 425.03,488.48 428.49,490.56 431.96,491.52 435.42,483.59 438.88,484 442.34,485.57 445.8,488.47 449.26,488.73 452.72,476.11 456.19,372.16 459.65,345.2 463.11,364.89 466.57,390.29 470.03,411.02 473.49,426.19 476.95,444.18 480.42,448.06 483.88,461.1 487.34,460.8 490.8,470.56 494.26,468.23 497.72,476.48 501.18,479.41 504.65,485.47 508.11,481.22 511.57,487.77 515.03,493.26 518.49,490.23 521.95,490.26 525.41,485.95 528.88,481.3 532.34,489.25 535.8,490.03 539.26,485.33 542.72,490.69 546.18,482.9 549.64,490.57 553.1,490.14 556.57,493.5 560.03,490.36 563.49,486.35 566.95,487.06 570.41,483.21 573.87,488.81 577.33,485.52 580.8,489.12 584.26,482.86 587.72,489.48 591.18,484.76 594.64,491.98 598.1,482.62 601.56,488.77 605.03,485.82 608.49,492.83 611.95,486 615.41,491.21 618.87,488.95 622.33,492.63 625.79,488.99 629.26,488.51 632.72,493.57 636.18,485.71 639.64,486.16 643.1,488.11 646.56,479.53 650.02,488.17 653.49,489.09 656.95,491.24 660.41,486.18 663.87,490.53 667.61,481.62"/>
<polyline points="408,482.93 410.93,487.84 414.39,487.88 417.85,494.52 421.31,480.32 424.77,489.71 428.23,487.07 431.7,487.54 435.16,478.66 438.62,488.19 442.08,486.71 445.54,480.38 449,486.65 452.46,480.17 455.93,370.76 459.39,345.2 462.85,368.76 466.31,375.09 469.77,406.33 473.23,415.74 476.69,429.33 480.16,438.43 483.62,440.17 487.08,469.87 490.54,467.87 494,460.89 497.46,468.4 500.92,457.52 504.39,480.53 507.85,471.79 511.31,477.14 514.77,480.28 518.23,481.25 521.69,490.31 525.15,491.94 528.61,484.87 532.08,486.87 535.54,492.01 539,480.58 542.46,478.55 545.92,488.76 549.38,463.47 552.84,487.87 556.31,482.57 559.77,477.49 563.23,489.87 566.69,483.05 570.15,479.52 573.61,479.94 577.07,488.12 580.54,488.1 584,494.35 587.46,478.14 590.92,478.49 594.38,482.31 597.84,489.34 601.3,489.2 604.77,488.48 608.23,485.15 611.69,489.59 615.15,483.1 618.61,485.44 622.07,491.04 625.53,475.7 629,494.04 632.46,482.26 635.92,492.19 639.38,487.65 642.84,491.63 646.3,484.45 649.76,480.07 653.23,490.83 656.69,490 660.15,491.58 663.61,491.25 667.61,492.53"/>
<polyline points="408,493.43 412.04,494.11 415.5,492.39 418.96,493.05 422.42,492.64 425.88,491.56 429.34,490.98 432.8,492.61 436.27,493.58 439.73,494.01 443.19,493.56 446.65,491.31 450.11,495.09 453.57,431.99 457.03,345.2 460.5,367.92 463.96,392.22 467.42,408.57 470.88,421.68 474.34,433.12 477.8,446.35 481.26,455.77 484.73,462.32 488.19,471.86 491.65,473.06 495.11,478.57 498.57,478.77 502.03,487.42 505.49,487.33 508.96,488.35 512.42,488.9 515.88,485.8 519.34,492.61 522.8,493.4 526.26,492.6 529.72,491.91 533.19,491.86 536.65,490.72 540.11,491.87 543.57,494.67 547.03,492.4 550.49,492.57 553.95,494.32 557.42,493.56 560.88,494.12 564.34,493.76 567.8,495.25 571.26,492.79 574.72,492.25 578.18,490.61 581.64,493.47 585.11,492.78 588.57,492.8 592.03,495.19 595.49,494.3 598.95,490.76 602.41,492.9 605.87,493.06 609.34,491.75 612.8,488.6 616.26,492.42 619.72,492.94 623.18,492.9 626.64,488.83 630.1,495 633.57,493.7 637.03,491.02 640.49,492.99 643.95,494.02 647.41,492.52 650.87,492.16 654.33,494.31 657.8,492.09 661.26,492.76 664.72,489.38 667.61,491.92"/>
<polyline points="408,490.1 411.26,493.16 414.72,492.33 418.18,490.69 421.64,491.22 425.1,491.32 428.56,493.08 432.03,495.14 435.49,492.19 438.95,490.63 442.41,490.68 445.87,493.87 449.33,487.59 452.79,491.22 456.26,491.04 459.72,490.97 463.18,468.74 466.64,454.31 470.1,447.77 473.56,444.24 477.02,433.58 480.49,438.43 483.95,440.21 487.41,444.28 490.87,447.21 494.33,449.56 497.79,451.54 501.25,454.04 504.72,455.88 508.18,460.79 511.64,459.76 515.1,461.34 518.56,460.85 522.02,471.06 525.48,473.66 528.95,472.08 532.41,472.7 535.87,471.79 539.33,478.45 542.79,473.76 546.25,479.08 549.71,480.21 553.18,482.05 556.64,479.43 560.1,482.82 563.56,483.29 567.02,484.5 570.48,489.35 573.94,486.4 577.4,488.39 580.87,490.4 584.33,487.96 587.79,490.98 591.25,487.81 594.71,489.27 598.17,487.81 601.63,492.87 605.1,491.24 608.56,493.35 612.02,488.54 615.48,492.35 618.94,490.2 622.4,491.59 625.86,490.45 629.33,493.51 632.79,491.03 636.25,491.92 639.71,492.1 643.17,492.1 646.63,494.15 650.09,494.41 653.56,491.92 657.02,492.25 660.48,493.31 663.94,490.68 667.61,493.57"/>
<polyline points="408,492.48 411.24,493.18 414.7,491.99 418.16,491.6 421.63,491.61 425.09,492.82 428.55,493.33 432.01,490.92 435.47,491.57 438.93,493.33 442.39,493.58 445.85,489.05 449.32,492.91 452.78,493.96 456.24,493.66 459.7,495.29 463.16,478.62 466.62,467.98 470.08,458.98 473.55,450.95 477.01,448.73 480.47,444.29 483.93,440.51 487.39,443.21 490.85,445.33 494.31,447.54 497.78,447.38 501.24,448.82 504.7,450.33 508.16,454.43 511.62,455.89 515.08,453.98 518.54,457.39 522.01,463.52 525.47,470.02 528.93,471.11 532.39,472.31 535.85,475.04 539.31,480.08 542.77,473.32 546.24,478.36 549.7,479.25 553.16,480.5 556.62,480.56 560.08,483.38 563.54,481.03 567,489.99 570.47,488.44 573.93,483.26 577.39,485.73 580.85,484.6 584.31,490.77 587.77,484.84 591.23,489.41 594.7,486.85 598.16,490.31 601.62,490.6 605.08,489.94 608.54,493.39 612,490.09 615.46,493.07 618.92,493.88 622.39,492.51 625.85,489.71 629.31,492.2 632.77,492.43 636.23,493.69 639.69,494.21 643.15,494.48 646.62,492.32 650.08,491.37 653.54,490.48 657,492.07 660.46,492.46 663.92,494.41 667.61,489.9"/>
<polyline points="408,493.06 411.41,495.17 414.87,493.01 418.33,493.86 421.79,495.28 425.25,493.46 428.71,494.05 432.17,494.47 435.64,495.28 439.1,492.71 442.56,491.41 446.02,493.23 449.48,494.03 452.94,494.56 456.4,493.75 459.87,483.54 463.33,470.25 466.79,455.23 470.25,446.7 473.71,443.69 477.17,440.76 480.63,441.73 484.09,445.43 487.56,445.13 491.02,450.14 494.48,455.98 497.94,454.43 501.4,460.69 504.86,464.74 508.32,465.97 511.79,466.89 515.25,467.99 518.71,470.44 522.17,474.19 525.63,473.42 529.09,475.28 532.55,477.36 536.02,478.33 539.48,480.12 542.94,480.48 546.4,481.29 549.86,483.98 553.32,485.21 556.78,488.34 560.25,486.75 563.71,487.09 567.17,487.86 570.63,489.93 574.09,487.68 577.55,492.32 581.01,491.74 584.48,487.7 587.94,494.71 591.4,490.83 594.86,492.45 598.32,489.71 601.78,487.71 605.24,495.07 608.71,494.37 612.17,493.25 615.63,494.83 619.09,491.38 622.55,492.51 626.01,492.14 629.47,494.11 632.94,492.6 636.4,494.16 639.86,494.54 643.32,491.58 646.78,492.88 650.24,492.53 653.7,491.69 657.16,493.05 660.63,492.95 664.09,494.05 667.61,494.8"/>
<polyline points="408,492.29 411.97,491.88 415.43,492.47 418.89,492.36 422.35,493.74 425.81,493.33 429.28,493.11 432.74,492.61 436.2,493.73 439.66,492.6 443.12,493.03 446.58,494.01 450.04,493.43 453.51,492.35 456.97,494.15 460.43,491.13 463.89,473.68 467.35,460.07 470.81,451.2 474.27,448.98 477.74,447.65 481.2,442.83 484.66,443.14 488.12,442.01 491.58,442.92 495.04,445.47 498.5,452.06 501.96,445.92 505.43,447.01 508.89,454.59 512.35,457.9 515.81,458.27 519.27,461.28 522.73,459.29 526.19,466.87 529.66,465.04 533.12,470.97 536.58,474.66 540.04,473.44 543.5,468.14 546.96,473.49 550.42,476.3 553.89,479.84 557.35,481.27 560.81,481.56 564.27,476.84 567.73,481.06 571.19,487.55 574.65,485.55 578.12,484.05 581.58,488.65 585.04,486.78 588.5,484.79 591.96,488.23 595.42,487.73 598.88,488.81 602.35,486.51 605.81,487.76 609.27,485.82 612.73,492.3 616.19,488.8 619.65,490.42 623.11,488.9 626.58,494 630.04,492.91 633.5,492.35 636.96,491.83 640.42,490.18 643.88,492.43 647.34,491.51 650.81,490.17 654.27,494.64 657.73,492.95 661.19,493.81 664.65,492.33 667.61,492.82"/>
<polyline points="408,493.31 411.55,494.96 415.01,492.89 418.47,493.67 421.94,493.11 425.4,494.58 428.86,493.46 432.32,493.99 435.78,494.68 439.24,493.54 442.7,495.13 446.17,493.76 449.63,494.04 453.09,494.4 456.55,493.97 460.01,486.39 463.47,472.81 466.93,462.49 470.39,454.54 473.86,448.74 477.32,448.79 480.78,447.72 484.24,447.02 487.7,445.77 491.16,450.19 494.62,451.51 498.09,454.88 501.55,455.83 505.01,457.35 508.47,462.19 511.93,465.32 515.39,466.51 518.85,467.24 522.32,470.88 525.78,470.54 529.24,473.47 532.7,474.26 536.16,475.61 539.62,479.35 543.08,478.02 546.55,478.44 550.01,480.1 553.47,483.04 556.93,483.96 560.39,484.35 563.85,485.41 567.31,486.95 570.78,486.39 574.24,487.59 577.7,489.95 581.16,488.76 584.62,488.1 588.08,489.66 591.54,491.97 595.01,491.15 598.47,492.05 601.93,491.73 605.39,492.89 608.85,490.48 612.31,492.13 615.77,492.11 619.24,492.78 622.7,494.61 626.16,492.82 629.62,492.49 633.08,494.08 636.54,493.06 640,494.31 643.46,493.79 646.93,493.95 650.39,494.34 653.85,493.86 657.31,494.39 660.77,495.45 664.23,493.76 667.61,493.76"/>
<polyline points="408,493.99 411.94,493.72 415.41,493.75 418.87,494.08 422.33,491.43 425.79,494.45 429.25,494.46 432.71,494.47 436.17,494.31 439.64,494.41 443.1,495.19 446.56,493.55 450.02,493.94 453.48,493.05 456.94,494.13 460.4,489.75 463.87,475.28 467.33,461.24 470.79,453.6 474.25,452.96 477.71,451.13 481.17,449.46 484.63,450.77 488.1,448.96 491.56,453.05 495.02,453.93 498.48,457.66 501.94,461.36 505.4,459 508.86,464.71 512.33,465.13 515.79,470.29 519.25,468.17 522.71,471.4 526.17,474.42 529.63,474.71 533.09,478.85 536.56,478.44 540.02,481 543.48,481.08 546.94,482.76 550.4,486.24 553.86,485.25 557.32,485.3 560.78,487.57 564.25,485.48 567.71,486.82 571.17,488.83 574.63,488.64 578.09,490.37 581.55,490.02 585.01,491.61 588.48,491.15 591.94,491.66 595.4,492.76 598.86,492.22 602.32,491.81 605.78,492.58 609.24,492.91 612.71,493.43 616.17,494.33 619.63,494.04 623.09,495.07 626.55,493.37 630.01,493.6 633.47,494.21 636.94,493.75 640.4,493.8 643.86,493.27 647.32,495.15 650.78,494.45 654.24,494.73 657.7,494.8 661.17,494.08 664.63,494.11 667.61,495.09"/>
<polyline points="408,492.36 411.01,493.07 414.47,492.99 417.93,493.83 421.39,492.78 424.85,493.01 428.32,494.85 431.78,492.93 435.24,491.68 438.7,494.08 442.16,493.67 445.62,493.2 449.08,492.4 452.55,493.39 456.01,494.86 459.47,486.66 462.93,482.07 466.39,469.68 469.85,464.42 473.31,459.3 476.78,454.44 480.24,451.34 483.7,455.46 487.16,457.42 490.62,456.97 494.08,462.27 497.54,462.94 501.01,459.7 504.47,463.65 507.93,470.66 511.39,466.42 514.85,473.15 518.31,473.22 521.77,476.25 525.24,476.41 528.7,477.45 532.16,475.55 535.62,479.97 539.08,482.66 542.54,483.66 546,482.67 549.47,484.5 552.93,484.78 556.39,484.74 559.85,488.54 563.31,486.63 566.77,487.31 570.23,487.05 573.7,491.47 577.16,491.64 580.62,490.86 584.08,490.27 587.54,493.55 591,491.42 594.46,490.78 597.92,490.7 601.39,490.07 604.85,494.5 608.31,490.19 611.77,491.98 615.23,490.93 618.69,490.89 622.15,492.22 625.62,492.6 629.08,493.9 632.54,494.08 636,494.5 639.46,493.52 642.92,493.81 646.38,493.67 649.85,493.85 653.31,492.73 656.77,495.14 660.23,490.63 663.69,492.15 667.61,494.42"/>
<polyline points="408,493.23 411.69,495.05 415.16,490.15 418.62,494.59 422.08,493.3 425.54,492.92 429,493.71 432.46,493.9 435.92,494.76 439.39,493.02 442.85,489.18 446.31,491.92 449.77,493.05 453.23,493.59 456.69,493.53 460.15,488.19 463.62,481.7 467.08,470.86 470.54,461.44 474,456.92 477.46,457.26 480.92,458.51 484.38,456.21 487.85,458.39 491.31,459.01 494.77,459.75 498.23,463.27 501.69,461.88 505.15,465.51 508.61,464.24 512.08,469.39 515.54,467.8 519,468.86 522.46,475.75 525.92,480.36 529.38,474.15 532.84,476.29 536.31,476.77 539.77,480.83 543.23,484.28 546.69,482.98 550.15,482.65 553.61,484.27 557.07,486.05 560.54,487.29 564,488.45 567.46,488.74 570.92,488.63 574.38,491.54 577.84,492.24 581.3,487.06 584.76,489.19 588.23,490.01 591.69,492.29 595.15,492.41 598.61,491.86 602.07,488.87 605.53,490.56 608.99,493.97 612.46,493.01 615.92,491.78 619.38,491.44 622.84,493.79 626.3,494.63 629.76,495.11 633.22,492.92 636.69,494.52 640.15,491.99 643.61,492.27 647.07,493.14 650.53,492.62 653.99,495.13 657.45,494.02 660.92,494.18 664.38,492.21 667.61,491.53"/>
<polyline points="408,491.65 412.11,493.71 415.57,492.83 419.04,492.77 422.5,494.41 425.96,492.75 429.42,492.78 432.88,491.78 436.34,491.23 439.8,492.47 443.27,492.57 446.73,490.79 450.19,494.16 453.65,494.63 457.11,493.06 460.57,492.79 464.03,473.8 467.5,467.54 470.96,462.45 474.42,462.45 477.88,460.7 481.34,457.63 484.8,458.82 488.26,456.79 491.73,460.07 495.19,471.35 498.65,468.26 502.11,470.52 505.57,471.94 509.03,474.31 512.49,475.19 515.96,479.5 519.42,482.13 522.88,479.16 526.34,476.84 529.8,482.08 533.26,482.76 536.72,485.3 540.19,483.47 543.65,486.33 547.11,483.57 550.57,487.14 554.03,486.99 557.49,487.43 560.95,488.96 564.41,488.59 567.88,489.75 571.34,486.55 574.8,493.49 578.26,490.9 581.72,490.81 585.18,494.81 588.64,491.63 592.11,489.6 595.57,492.29 599.03,491.6 602.49,494.34 605.95,494.17 609.41,495.23 612.87,493.83 616.34,492.14 619.8,493.77 623.26,494.52 626.72,491.75 630.18,491.62 633.64,495.12 637.1,495.29 640.57,491.71 644.03,494.36 647.49,494.87 650.95,494.03 654.41,493.32 657.87,491.52 661.33,491 664.8,493.78 667.61,490.48"/>
<polyline points="408,492.62 411.98,494.39 415.44,494.19 418.9,493.94 422.36,494.3 425.82,492.43 429.28,494.35 432.75,494.22 436.21,493.3 439.67,491.96 443.13,495.16 446.59,493.11 450.05,494.94 453.51,493.46 456.97,491.08 460.44,486.22 463.9,474.05 467.36,469.14 470.82,464.05 474.28,460.18 477.74,466.22 481.2,461.8 484.67,461.96 488.13,465.47 491.59,467.21 495.05,470.99 498.51,471.97 501.97,473.44 505.43,472.55 508.9,477.03 512.36,478.01 515.82,480.73 519.28,475.89 522.74,479.78 526.2,481.63 529.66,484.25 533.13,479.12 536.59,484.33 540.05,481.15 543.51,483.64 546.97,485 550.43,484.57 553.89,485.25 557.36,484.91 560.82,488.04 564.28,488.56 567.74,490.83 571.2,491.67 574.66,491 578.12,491.38 581.59,488.68 585.05,488.86 588.51,490.16 591.97,491.67 595.43,489.99 598.89,490.64 602.35,493.39 605.82,492.59 609.28,491.41 612.74,491.79 616.2,488.59 619.66,494.23 623.12,488.27 626.58,494.99 630.04,493.44 633.51,493.61 636.97,494.05 640.43,493.64 643.89,490.39 647.35,494.07 650.81,493.8 654.27,492.68 657.74,493.62 661.2,493.21 664.66,491.37 667.61,493.22"/>
<polyline points="408,491.44 411.07,493.84 414.53,491.02 417.99,492.43 421.45,492.13 424.91,489.24 428.37,494.58 431.84,490.71 435.3,490.12 438.76,489.23 442.22,489 445.68,490.66 449.14,494.01 452.6,492.81 456.07,492.47 459.53,492.67 462.99,489.07 466.45,480.06 469.91,472.69 473.37,470.41 476.83,467.11 480.29,464.72 483.76,465.56 487.22,463.11 490.68,467.35 494.14,468.01 497.6,472.32 501.06,470.01 504.52,475.84 507.99,473.59 511.45,475.74 514.91,478.81 518.37,475.76 521.83,477 525.29,480.46 528.75,483.05 532.22,482.51 535.68,478.27 539.14,487.57 542.6,488.59 546.06,486.86 549.52,483.23 552.98,484.26 556.45,488.67 559.91,483.56 563.37,491.24 566.83,489.76 570.29,492.08 573.75,490.52 577.21,490.53 580.68,491.82 584.14,489.09 587.6,493 591.06,492.98 594.52,491.86 597.98,493.64 601.44,494.19 604.91,494.65 608.37,493.32 611.83,494.59 615.29,489.76 618.75,494.46 622.21,494.48 625.67,492.1 629.14,492.21 632.6,492.18 636.06,492.11 639.52,490.43 642.98,492.92 646.44,492.97 649.9,494.11 653.36,493.76 656.83,493.89 660.29,491.32 663.75,491.73 667.61,494.53"/>
<polyline points="408,491.55 411.29,493.17 414.75,493.21 418.21,492.12 421.67,490.59 425.14,493.36 428.6,493.83 432.06,490.27 435.52,495.16 438.98,494.39 442.44,491.75 445.9,492.95 449.37,493.87 452.83,493.78 456.29,494.03 459.75,492.87 463.21,486.81 466.67,479.07 470.13,475.5 473.6,473.87 477.06,472.91 480.52,468.28 483.98,470.03 487.44,468.23 490.9,467.85 494.36,469.45 497.83,471.38 501.29,472.84 504.75,473.74 508.21,480.4 511.67,477.83 515.13,481.52 518.59,479.51 522.06,481.75 525.52,482.79 528.98,483.48 532.44,486.1 535.9,484.66 539.36,484.14 542.82,486.87 546.29,486.94 549.75,489.67 553.21,489.14 556.67,487.68 560.13,488.28 563.59,489.03 567.05,489.47 570.52,492.87 573.98,491.85 577.44,489.92 580.9,492.18 584.36,491.9 587.82,492.69 591.28,492.6 594.74,491.6 598.21,491.31 601.67,493.73 605.13,492.4 608.59,491.55 612.05,491.7 615.51,493.77 618.97,493.43 622.44,494.72 625.9,493.82 629.36,491.94 632.82,490.27 636.28,494.89 639.74,492.71 643.2,494.53 646.67,492.05 650.13,492.24 653.59,492.95 657.05,493.64 660.51,491.21 663.97,493.81 667.61,494.01"/>
<polyline points="408,494.56 411.46,492.25 414.92,493.14 418.38,490.54 421.85,492.66 425.31,492.29 428.77,494.46 432.23,492.13 435.69,493.14 439.15,493.3 442.61,494.03 446.08,491.83 449.54,493.08 453,492.53 456.46,491.11 459.92,486.27 463.38,462.32 467.71,429.43 471.69,411.15 475.15,405.59 479.82,405.35 484.5,405.55 488.65,407.88 491.94,409.99 495.05,413.33 498.52,416.97 501.46,417.03 504.92,427.05 507.86,427.02 512.53,434.75 515.3,437.65 518.42,440.49 521.36,441.49 525,443.85 529.32,453.36 532.26,452.52 536.07,461.12 539.53,460.37 542.48,460.78 546.11,468.65 549.74,467.47 554.24,469.61 559.96,473.96 563.76,472.83 568.78,478.51 573.28,481.27 577.61,482.58 581.07,484.01 584.53,484 587.99,488.17 591.45,486.09 594.92,489.38 598.38,487.36 601.84,490.28 605.3,488.69 608.76,490.96 612.22,491.57 615.68,491.11 619.15,491.69 622.61,493.58 626.07,491 629.53,490.76 632.99,491.69 636.45,493.4 639.91,492.56 643.38,493.6 646.84,492.59 650.3,493.17 653.76,492.7 657.22,493.06 660.68,492.21 664.14,494.34 667.61,493.71"/>
</g>
<line x1="408" y1="315" x2="408" y2="496.7" stroke="#000" stroke-width="2.3" stroke-linecap="butt"/>
<line x1="406.9" y1="495.6" x2="668.71" y2="495.6" stroke="#000" stroke-width="2.2" stroke-linecap="butt"/>
<line x1="401.7" y1="495.6" x2="408" y2="495.6" stroke="#000" stroke-width="2.4" stroke-linecap="butt"/>
<text transform="translate(402.8,503.1) scale(1.03,1)" font-size="18.2" text-anchor="end" font-weight="normal" fill="#000">0.0</text>
<line x1="401.7" y1="420.4" x2="408" y2="420.4" stroke="#000" stroke-width="2.4" stroke-linecap="butt"/>
<text transform="translate(402.8,427.9) scale(1.03,1)" font-size="18.2" text-anchor="end" font-weight="normal" fill="#000">0.5</text>
<line x1="401.7" y1="345.2" x2="408" y2="345.2" stroke="#000" stroke-width="2.4" stroke-linecap="butt"/>
<text transform="translate(402.8,352.7) scale(1.03,1)" font-size="18.2" text-anchor="end" font-weight="normal" fill="#000">1.0</text>
<line x1="408" y1="495.6" x2="408" y2="502.1" stroke="#000" stroke-width="2.2" stroke-linecap="butt"/>
<text transform="translate(408.6,520.6) scale(1.03,1)" font-size="18.2" text-anchor="middle" font-weight="normal" fill="#000">0</text>
<line x1="494.53" y1="495.6" x2="494.53" y2="502.1" stroke="#000" stroke-width="2.2" stroke-linecap="butt"/>
<text transform="translate(495.13,520.6) scale(1.03,1)" font-size="18.2" text-anchor="middle" font-weight="normal" fill="#000">50</text>
<line x1="581.07" y1="495.6" x2="581.07" y2="502.1" stroke="#000" stroke-width="2.2" stroke-linecap="butt"/>
<text transform="translate(583.47,520.6) scale(1.03,1)" font-size="18.2" text-anchor="middle" font-weight="normal" fill="#000">100</text>
<line x1="667.61" y1="495.6" x2="667.61" y2="502.1" stroke="#000" stroke-width="2.2" stroke-linecap="butt"/>
<text transform="translate(670,520.6) scale(1.03,1)" font-size="18.2" text-anchor="middle" font-weight="normal" fill="#000">150</text>
<text transform="translate(538.7,547.7) scale(1.03,1)" font-size="18" text-anchor="middle" font-weight="normal" fill="#000">time [s]</text>
<text transform="translate(372.6,399.4) rotate(-90)" font-size="18.5" text-anchor="middle" font-weight="normal" fill="#000">normalized signal</text>
<text transform="translate(432.6,331)" font-size="12.2" text-anchor="start" font-weight="normal" fill="#000">Pyruvate</text>
<text transform="translate(531.1,414.3)" font-size="12.2" text-anchor="start" font-weight="normal" fill="#000">Lactate</text>
<text transform="translate(360,297.3)" font-size="18" text-anchor="start" font-weight="bold" fill="#000">d</text>
<rect x="86.2" y="719" width="34.1" height="80.3" fill="none" stroke="#ababab" stroke-width="2.1"/>
<line x1="103.3" y1="700.6" x2="103.3" y2="719" stroke="#a5a5a5" stroke-width="2" stroke-linecap="butt"/>
<line x1="94" y1="700.6" x2="112.6" y2="700.6" stroke="#a5a5a5" stroke-width="2" stroke-linecap="butt"/>
<line x1="103.3" y1="719" x2="103.3" y2="736" stroke="#a5a5a5" stroke-width="2" stroke-linecap="butt"/>
<path d="M103.3 677.2L108.9 682.8L103.3 688.4L97.7 682.8Z" fill="#8e8e8e"/>
<path d="M94.6 704.7L100.2 710.3L94.6 715.9L89 710.3Z" fill="#8e8e8e"/>
<path d="M100.6 708.9L106.2 714.5L100.6 720.1L95 714.5Z" fill="#8e8e8e"/>
<path d="M106.6 704.4L112.2 710L106.6 715.6L101 710Z" fill="#8e8e8e"/>
<path d="M112 699.7L117.6 705.3L112 710.9L106.4 705.3Z" fill="#8e8e8e"/>
<path d="M111.6 722.4L117.2 728L111.6 733.6L106 728Z" fill="#8e8e8e"/>
<path d="M95.2 730.1L100.8 735.7L95.2 741.3L89.6 735.7Z" fill="#8e8e8e"/>
<path d="M99.8 733.9L105.4 739.5L99.8 745.1L94.2 739.5Z" fill="#8e8e8e"/>
<path d="M107.7 732.4L113.3 738L107.7 743.6L102.1 738Z" fill="#8e8e8e"/>
<rect x="137.6" y="682.4" width="34.4" height="116.9" fill="none" stroke="#000" stroke-width="2.1"/>
<line x1="155" y1="665.1" x2="155" y2="698.2" stroke="#000" stroke-width="2" stroke-linecap="butt"/>
<line x1="145.8" y1="665.1" x2="164.2" y2="665.1" stroke="#000" stroke-width="2" stroke-linecap="butt"/>
<line x1="145.8" y1="698.2" x2="164.2" y2="698.2" stroke="#000" stroke-width="2" stroke-linecap="butt"/>
<rect x="144.2" y="658.2" width="8.4" height="8.4" fill="#000"/>
<rect x="157.3" y="652.8" width="8.4" height="8.4" fill="#000"/>
<rect x="144.2" y="676.5" width="8.4" height="8.4" fill="#000"/>
<rect x="140" y="686.2" width="8.4" height="8.4" fill="#000"/>
<rect x="157.4" y="680.9" width="8.4" height="8.4" fill="#000"/>
<rect x="161.7" y="688.3" width="8.4" height="8.4" fill="#000"/>
<rect x="150.8" y="698.6" width="8.4" height="8.4" fill="#000"/>
<line x1="68.8" y1="624.7" x2="68.8" y2="800.4" stroke="#000" stroke-width="2.2" stroke-linecap="butt"/>
<line x1="67.7" y1="799.3" x2="189.5" y2="799.3" stroke="#000" stroke-width="2.2" stroke-linecap="butt"/>
<line x1="62" y1="624.7" x2="68.8" y2="624.7" stroke="#000" stroke-width="2.2" stroke-linecap="butt"/>
<text transform="translate(61.3,630.8) scale(1.03,1)" font-size="16.4" text-anchor="end" font-weight="normal" fill="#000">0.06</text>
<line x1="62" y1="682.9" x2="68.8" y2="682.9" stroke="#000" stroke-width="2.2" stroke-linecap="butt"/>
<text transform="translate(61.3,689) scale(1.03,1)" font-size="16.4" text-anchor="end" font-weight="normal" fill="#000">0.04</text>
<line x1="62" y1="741.1" x2="68.8" y2="741.1" stroke="#000" stroke-width="2.2" stroke-linecap="butt"/>
<text transform="translate(61.3,747.2) scale(1.03,1)" font-size="16.4" text-anchor="end" font-weight="normal" fill="#000">0.02</text>
<line x1="62" y1="799.3" x2="68.8" y2="799.3" stroke="#000" stroke-width="2.2" stroke-linecap="butt"/>
<text transform="translate(61.3,805.4) scale(1.03,1)" font-size="16.4" text-anchor="end" font-weight="normal" fill="#000">0.00</text>
<line x1="103.3" y1="799.3" x2="103.3" y2="806.2" stroke="#000" stroke-width="2.2" stroke-linecap="butt"/>
<text transform="translate(103.3,822.3) scale(1.03,1)" font-size="16.4" text-anchor="middle" font-weight="normal" fill="#000">LA-L</text>
<line x1="155" y1="799.3" x2="155" y2="806.2" stroke="#000" stroke-width="2.2" stroke-linecap="butt"/>
<text transform="translate(155,822.3) scale(1.03,1)" font-size="16.4" text-anchor="middle" font-weight="normal" fill="#000">LA-H</text>
<text transform="translate(95.8,632.7)" font-size="15" text-anchor="start" font-weight="normal" fill="#000">p &lt; 0.001</text>
<line x1="108.1" y1="636.6" x2="163" y2="636.6" stroke="#000" stroke-width="1.9" stroke-linecap="butt"/>
<text transform="translate(16.6,711.4) rotate(-90)" font-size="18.1" text-anchor="middle">k<tspan font-size="12.6" dy="5">pl</tspan><tspan dy="-5">-values [s</tspan><tspan font-size="12.6" dy="-6.5">-1</tspan><tspan dy="6.5">]</tspan></text>
<text transform="translate(2.6,600.1)" font-size="18" text-anchor="start" font-weight="bold" fill="#000">e</text>
<rect x="297.2" y="720.7" width="34.6" height="79.7" fill="none" stroke="#ababab" stroke-width="2.1"/>
<line x1="314.5" y1="706.3" x2="314.5" y2="733.2" stroke="#a5a5a5" stroke-width="2" stroke-linecap="butt"/>
<line x1="305.7" y1="706.3" x2="323.7" y2="706.3" stroke="#a5a5a5" stroke-width="2" stroke-linecap="butt"/>
<line x1="305.7" y1="733.2" x2="323.7" y2="733.2" stroke="#a5a5a5" stroke-width="2" stroke-linecap="butt"/>
<path d="M314.5 687.7L320.1 693.3L314.5 698.9L308.9 693.3Z" fill="#8e8e8e"/>
<path d="M306 705.5L311.6 711.1L306 716.7L300.4 711.1Z" fill="#8e8e8e"/>
<path d="M322.9 705.5L328.5 711.1L322.9 716.7L317.3 711.1Z" fill="#8e8e8e"/>
<path d="M318.1 712.3L323.7 717.9L318.1 723.5L312.5 717.9Z" fill="#8e8e8e"/>
<path d="M310.9 709.1L316.5 714.7L310.9 720.3L305.3 714.7Z" fill="#8e8e8e"/>
<path d="M305.7 717.6L311.3 723.2L305.7 728.8L300.1 723.2Z" fill="#8e8e8e"/>
<path d="M323.7 721.2L329.3 726.8L323.7 732.4L318.1 726.8Z" fill="#8e8e8e"/>
<path d="M310 724.4L315.6 730L310 735.6L304.4 730Z" fill="#8e8e8e"/>
<path d="M318.1 726L323.7 731.6L318.1 737.2L312.5 731.6Z" fill="#8e8e8e"/>
<path d="M314.5 734L320.1 739.6L314.5 745.2L308.9 739.6Z" fill="#8e8e8e"/>
<rect x="349.2" y="651.1" width="34.6" height="149.3" fill="none" stroke="#000" stroke-width="2.1"/>
<line x1="366.5" y1="640" x2="366.5" y2="662.1" stroke="#000" stroke-width="2" stroke-linecap="butt"/>
<line x1="357.3" y1="662.1" x2="375.7" y2="662.1" stroke="#000" stroke-width="2" stroke-linecap="butt"/>
<line x1="357.3" y1="640" x2="375.7" y2="640" stroke="#000" stroke-width="2" stroke-linecap="butt"/>
<rect x="351.8" y="633.4" width="8.4" height="8.4" fill="#000"/>
<rect x="372.6" y="633.4" width="8.4" height="8.4" fill="#000"/>
<rect x="358.3" y="639.3" width="8.4" height="8.4" fill="#000"/>
<rect x="366.3" y="639.3" width="8.4" height="8.4" fill="#000"/>
<rect x="362.3" y="636.8" width="8.4" height="8.4" fill="#000"/>
<rect x="349.4" y="646.8" width="8.4" height="8.4" fill="#000"/>
<rect x="375.4" y="647.8" width="8.4" height="8.4" fill="#000"/>
<rect x="358.8" y="649.3" width="8.4" height="8.4" fill="#000"/>
<rect x="366.8" y="657.8" width="8.4" height="8.4" fill="#000"/>
<rect x="362.3" y="671.5" width="8.4" height="8.4" fill="#000"/>
<line x1="279.8" y1="624.5" x2="279.8" y2="801.5" stroke="#000" stroke-width="2.2" stroke-linecap="butt"/>
<line x1="278.7" y1="800.4" x2="401.3" y2="800.4" stroke="#000" stroke-width="2.2" stroke-linecap="butt"/>
<line x1="274" y1="624.5" x2="279.8" y2="624.5" stroke="#000" stroke-width="2.2" stroke-linecap="butt"/>
<text transform="translate(273.2,630.6) scale(1.03,1)" font-size="16.4" text-anchor="end" font-weight="normal" fill="#000">150</text>
<line x1="274" y1="683.13" x2="279.8" y2="683.13" stroke="#000" stroke-width="2.2" stroke-linecap="butt"/>
<text transform="translate(273.2,689.23) scale(1.03,1)" font-size="16.4" text-anchor="end" font-weight="normal" fill="#000">100</text>
<line x1="274" y1="741.77" x2="279.8" y2="741.77" stroke="#000" stroke-width="2.2" stroke-linecap="butt"/>
<text transform="translate(273.2,747.87) scale(1.03,1)" font-size="16.4" text-anchor="end" font-weight="normal" fill="#000">50</text>
<line x1="274" y1="800.4" x2="279.8" y2="800.4" stroke="#000" stroke-width="2.2" stroke-linecap="butt"/>
<text transform="translate(273.2,806.5) scale(1.03,1)" font-size="16.4" text-anchor="end" font-weight="normal" fill="#000">0</text>
<line x1="314.6" y1="800.4" x2="314.6" y2="807.8" stroke="#000" stroke-width="2.2" stroke-linecap="butt"/>
<text transform="translate(314.6,823.5) scale(1.03,1)" font-size="16.4" text-anchor="middle" font-weight="normal" fill="#000">LA-L</text>
<line x1="366.6" y1="800.4" x2="366.6" y2="807.8" stroke="#000" stroke-width="2.2" stroke-linecap="butt"/>
<text transform="translate(366.6,823.5) scale(1.03,1)" font-size="16.4" text-anchor="middle" font-weight="normal" fill="#000">LA-H</text>
<text transform="translate(305,614)" font-size="15" text-anchor="start" font-weight="normal" fill="#000">p &lt; 0.001</text>
<line x1="316.4" y1="618.4" x2="371.5" y2="618.4" stroke="#000" stroke-width="1.9" stroke-linecap="butt"/>
<text transform="translate(234,713.5) rotate(-90)" font-size="17.9" text-anchor="middle" font-weight="normal" fill="#000">LDH activity U/g</text>
<text transform="translate(225.5,599.9)" font-size="18" text-anchor="start" font-weight="bold" fill="#000">f</text>
</svg></body></html>
